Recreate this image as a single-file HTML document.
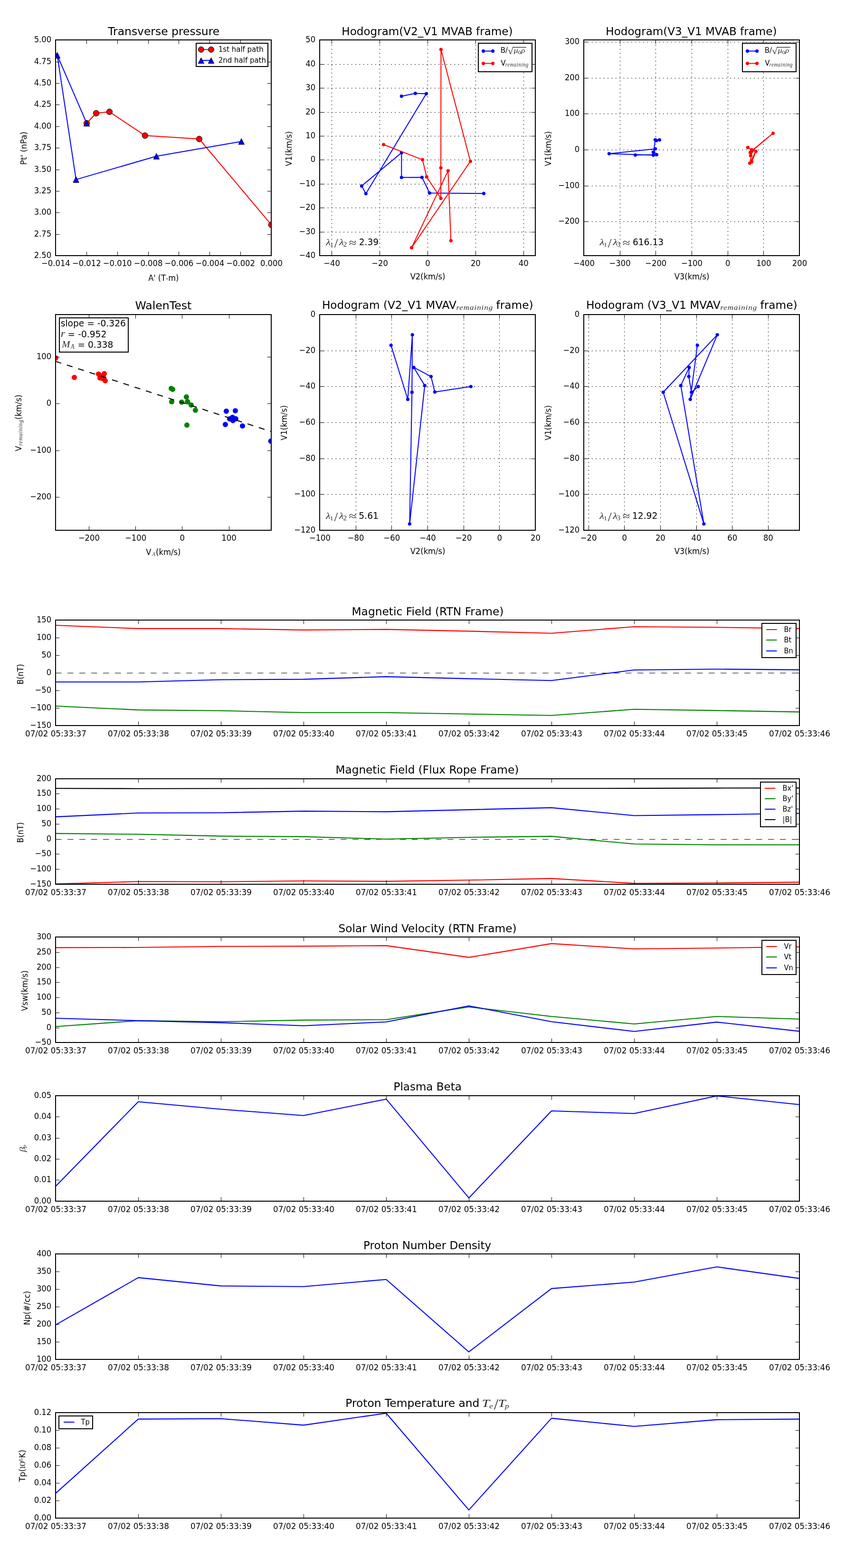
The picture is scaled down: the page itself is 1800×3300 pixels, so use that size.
<!DOCTYPE html>
<html lang="en"><head><meta charset="utf-8"><title>Flux rope event plots</title>
<style>html,body{margin:0;padding:0;background:#fff}svg{display:block}text{white-space:pre}</style></head>
<body>
<svg width="1800" height="3300" viewBox="0 0 1800 3300" role="img" aria-label="Flux rope event plots" font-family='DejaVu Sans,Liberation Sans,sans-serif' font-size="16.67" fill="#000">
<defs><clipPath id="c1"><rect x="117" y="84" width="454" height="454"/></clipPath><clipPath id="c2"><rect x="673" y="84" width="454" height="454"/></clipPath><clipPath id="c3"><rect x="1229" y="84" width="454" height="454"/></clipPath><clipPath id="c4"><rect x="117" y="662" width="454" height="454"/></clipPath><clipPath id="c5"><rect x="673" y="662" width="454" height="454"/></clipPath><clipPath id="c6"><rect x="1229" y="662" width="454" height="454"/></clipPath><clipPath id="c7"><rect x="117" y="1305" width="1566" height="222"/></clipPath><clipPath id="c8"><rect x="117" y="1639" width="1566" height="222"/></clipPath><clipPath id="c9"><rect x="117" y="1972" width="1566" height="222"/></clipPath><clipPath id="c10"><rect x="117" y="2306" width="1566" height="222"/></clipPath><clipPath id="c11"><rect x="117" y="2639" width="1566" height="222"/></clipPath><clipPath id="c12"><rect x="117" y="2973" width="1566" height="222"/></clipPath></defs>
<!-- Transverse pressure -->
<g clip-path="url(#c1)">
<polyline points="182.5,259.3 202.5,238.3 230.4,235.3 305.3,285.3 419.4,292.5 571.3,473.2" fill="none" stroke="#f00" stroke-width="2" stroke-linejoin="round"/>
<circle cx="182.5" cy="259.3" r="6.15" fill="#f00" stroke="#000" stroke-width="1"/>
<circle cx="202.5" cy="238.3" r="6.15" fill="#f00" stroke="#000" stroke-width="1"/>
<circle cx="230.4" cy="235.3" r="6.15" fill="#f00" stroke="#000" stroke-width="1"/>
<circle cx="305.3" cy="285.3" r="6.15" fill="#f00" stroke="#000" stroke-width="1"/>
<circle cx="419.4" cy="292.5" r="6.15" fill="#f00" stroke="#000" stroke-width="1"/>
<circle cx="571.3" cy="473.2" r="6.15" fill="#f00" stroke="#000" stroke-width="1"/>
<polyline points="182.5,259.3 120.5,116.2 160.1,377.9 329.3,328.8 508.2,297.7" fill="none" stroke="#00f" stroke-width="2" stroke-linejoin="round"/>
<path d="M182.5 253.2L176.3 265.6L188.7 265.6Z" fill="#00f" stroke="#000" stroke-width="1"/>
<path d="M120.5 110.1L114.3 122.5L126.7 122.5Z" fill="#00f" stroke="#000" stroke-width="1"/>
<path d="M160.1 371.8L153.9 384.2L166.3 384.2Z" fill="#00f" stroke="#000" stroke-width="1"/>
<path d="M329.3 322.7L323.1 335.1L335.5 335.1Z" fill="#00f" stroke="#000" stroke-width="1"/>
<path d="M508.2 291.6L502 304L514.4 304Z" fill="#00f" stroke="#000" stroke-width="1"/>
</g>
<line x1="117.5" y1="538" x2="117.5" y2="529.6" stroke="#000" stroke-width="1"/>
<line x1="117.5" y1="84" x2="117.5" y2="92.4" stroke="#000" stroke-width="1"/>
<text transform="translate(117.45 559.7) scale(0.985 1.07)" text-anchor="middle">−0.014</text>
<line x1="182.5" y1="538" x2="182.5" y2="529.6" stroke="#000" stroke-width="1"/>
<line x1="182.5" y1="84" x2="182.5" y2="92.4" stroke="#000" stroke-width="1"/>
<text transform="translate(182.31 559.7) scale(0.985 1.07)" text-anchor="middle">−0.012</text>
<line x1="247.5" y1="538" x2="247.5" y2="529.6" stroke="#000" stroke-width="1"/>
<line x1="247.5" y1="84" x2="247.5" y2="92.4" stroke="#000" stroke-width="1"/>
<text transform="translate(247.16 559.7) scale(0.985 1.07)" text-anchor="middle">−0.010</text>
<line x1="312.5" y1="538" x2="312.5" y2="529.6" stroke="#000" stroke-width="1"/>
<line x1="312.5" y1="84" x2="312.5" y2="92.4" stroke="#000" stroke-width="1"/>
<text transform="translate(312.02 559.7) scale(0.985 1.07)" text-anchor="middle">−0.008</text>
<line x1="376.5" y1="538" x2="376.5" y2="529.6" stroke="#000" stroke-width="1"/>
<line x1="376.5" y1="84" x2="376.5" y2="92.4" stroke="#000" stroke-width="1"/>
<text transform="translate(376.88 559.7) scale(0.985 1.07)" text-anchor="middle">−0.006</text>
<line x1="441.5" y1="538" x2="441.5" y2="529.6" stroke="#000" stroke-width="1"/>
<line x1="441.5" y1="84" x2="441.5" y2="92.4" stroke="#000" stroke-width="1"/>
<text transform="translate(441.74 559.7) scale(0.985 1.07)" text-anchor="middle">−0.004</text>
<line x1="506.5" y1="538" x2="506.5" y2="529.6" stroke="#000" stroke-width="1"/>
<line x1="506.5" y1="84" x2="506.5" y2="92.4" stroke="#000" stroke-width="1"/>
<text transform="translate(506.59 559.7) scale(0.985 1.07)" text-anchor="middle">−0.002</text>
<line x1="571.5" y1="538" x2="571.5" y2="529.6" stroke="#000" stroke-width="1"/>
<line x1="571.5" y1="84" x2="571.5" y2="92.4" stroke="#000" stroke-width="1"/>
<text transform="translate(571.45 559.7) scale(0.985 1.07)" text-anchor="middle">0.000</text>
<line x1="117" y1="538.5" x2="125.4" y2="538.5" stroke="#000" stroke-width="1"/>
<line x1="571" y1="538.5" x2="562.6" y2="538.5" stroke="#000" stroke-width="1"/>
<text transform="translate(108.2 542.7) scale(0.985 1.07)" text-anchor="end">2.50</text>
<line x1="117" y1="493.5" x2="125.4" y2="493.5" stroke="#000" stroke-width="1"/>
<line x1="571" y1="493.5" x2="562.6" y2="493.5" stroke="#000" stroke-width="1"/>
<text transform="translate(108.2 497.7) scale(0.985 1.07)" text-anchor="end">2.75</text>
<line x1="117" y1="447.5" x2="125.4" y2="447.5" stroke="#000" stroke-width="1"/>
<line x1="571" y1="447.5" x2="562.6" y2="447.5" stroke="#000" stroke-width="1"/>
<text transform="translate(108.2 451.7) scale(0.985 1.07)" text-anchor="end">3.00</text>
<line x1="117" y1="402.5" x2="125.4" y2="402.5" stroke="#000" stroke-width="1"/>
<line x1="571" y1="402.5" x2="562.6" y2="402.5" stroke="#000" stroke-width="1"/>
<text transform="translate(108.2 406.7) scale(0.985 1.07)" text-anchor="end">3.25</text>
<line x1="117" y1="357.5" x2="125.4" y2="357.5" stroke="#000" stroke-width="1"/>
<line x1="571" y1="357.5" x2="562.6" y2="357.5" stroke="#000" stroke-width="1"/>
<text transform="translate(108.2 361.7) scale(0.985 1.07)" text-anchor="end">3.50</text>
<line x1="117" y1="311.5" x2="125.4" y2="311.5" stroke="#000" stroke-width="1"/>
<line x1="571" y1="311.5" x2="562.6" y2="311.5" stroke="#000" stroke-width="1"/>
<text transform="translate(108.2 315.7) scale(0.985 1.07)" text-anchor="end">3.75</text>
<line x1="117" y1="266.5" x2="125.4" y2="266.5" stroke="#000" stroke-width="1"/>
<line x1="571" y1="266.5" x2="562.6" y2="266.5" stroke="#000" stroke-width="1"/>
<text transform="translate(108.2 270.7) scale(0.985 1.07)" text-anchor="end">4.00</text>
<line x1="117" y1="220.5" x2="125.4" y2="220.5" stroke="#000" stroke-width="1"/>
<line x1="571" y1="220.5" x2="562.6" y2="220.5" stroke="#000" stroke-width="1"/>
<text transform="translate(108.2 224.7) scale(0.985 1.07)" text-anchor="end">4.25</text>
<line x1="117" y1="175.5" x2="125.4" y2="175.5" stroke="#000" stroke-width="1"/>
<line x1="571" y1="175.5" x2="562.6" y2="175.5" stroke="#000" stroke-width="1"/>
<text transform="translate(108.2 179.7) scale(0.985 1.07)" text-anchor="end">4.50</text>
<line x1="117" y1="130.5" x2="125.4" y2="130.5" stroke="#000" stroke-width="1"/>
<line x1="571" y1="130.5" x2="562.6" y2="130.5" stroke="#000" stroke-width="1"/>
<text transform="translate(108.2 134.7) scale(0.985 1.07)" text-anchor="end">4.75</text>
<line x1="117" y1="84.5" x2="125.4" y2="84.5" stroke="#000" stroke-width="1"/>
<line x1="571" y1="84.5" x2="562.6" y2="84.5" stroke="#000" stroke-width="1"/>
<text transform="translate(108.2 88.7) scale(0.985 1.07)" text-anchor="end">5.00</text>
<rect x="117" y="84" width="454" height="454" fill="none" stroke="#000" stroke-width="2"/>
<text transform="translate(227.22 74.1) scale(1.001 1)" font-size="23.4">Transverse pressure</text>
<text transform="translate(312.22 590.9) scale(0.970 1.07)">A' (T<tspan dy="1.9">·</tspan><tspan dy="-1.9">m)</tspan></text>
<text transform="translate(56 345.5) rotate(-90) translate(-1.4 0) scale(1.008 1.07)">Pt' (nPa)</text>
<rect x="413" y="91" width="151" height="49" fill="#fff" stroke="#000" stroke-width="2"/>
<line x1="423.4" y1="104.3" x2="444.5" y2="104.3" stroke="#f00" stroke-width="2"/>
<circle cx="423.4" cy="104.3" r="6" fill="#f00" stroke="#000" stroke-width="1"/>
<circle cx="444.5" cy="104.3" r="6" fill="#f00" stroke="#000" stroke-width="1"/>
<text transform="translate(459.7 109.2) scale(1.000 1.03)" font-size="15">1st half path</text>
<line x1="423.4" y1="127.2" x2="444.5" y2="127.2" stroke="#00f" stroke-width="2"/>
<path d="M423.4 121.4L417.4 133.4L429.4 133.4Z" fill="#00f" stroke="#000" stroke-width="1"/>
<path d="M444.5 121.4L438.5 133.4L450.5 133.4Z" fill="#00f" stroke="#000" stroke-width="1"/>
<text transform="translate(459.7 132) scale(1.000 1.03)" font-size="15">2nd half path</text>
<!-- Hodogram V2-V1 (MVAB) -->
<line x1="698.5" y1="538" x2="698.5" y2="84" stroke="#000" stroke-width="1" stroke-dasharray="2.08 6.25"/>
<line x1="698.5" y1="538" x2="698.5" y2="529.6" stroke="#000" stroke-width="1"/>
<line x1="698.5" y1="84" x2="698.5" y2="92.4" stroke="#000" stroke-width="1"/>
<text transform="translate(698.67 559.7) scale(0.985 1.07)" text-anchor="middle">−40</text>
<line x1="799.5" y1="538" x2="799.5" y2="84" stroke="#000" stroke-width="1" stroke-dasharray="2.08 6.25"/>
<line x1="799.5" y1="538" x2="799.5" y2="529.6" stroke="#000" stroke-width="1"/>
<line x1="799.5" y1="84" x2="799.5" y2="92.4" stroke="#000" stroke-width="1"/>
<text transform="translate(799.56 559.7) scale(0.985 1.07)" text-anchor="middle">−20</text>
<line x1="900.5" y1="538" x2="900.5" y2="84" stroke="#000" stroke-width="1" stroke-dasharray="2.08 6.25"/>
<line x1="900.5" y1="538" x2="900.5" y2="529.6" stroke="#000" stroke-width="1"/>
<line x1="900.5" y1="84" x2="900.5" y2="92.4" stroke="#000" stroke-width="1"/>
<text transform="translate(900.45 559.7) scale(0.985 1.07)" text-anchor="middle">0</text>
<line x1="1001.5" y1="538" x2="1001.5" y2="84" stroke="#000" stroke-width="1" stroke-dasharray="2.08 6.25"/>
<line x1="1001.5" y1="538" x2="1001.5" y2="529.6" stroke="#000" stroke-width="1"/>
<line x1="1001.5" y1="84" x2="1001.5" y2="92.4" stroke="#000" stroke-width="1"/>
<text transform="translate(1001.34 559.7) scale(0.985 1.07)" text-anchor="middle">20</text>
<line x1="1102.5" y1="538" x2="1102.5" y2="84" stroke="#000" stroke-width="1" stroke-dasharray="2.08 6.25"/>
<line x1="1102.5" y1="538" x2="1102.5" y2="529.6" stroke="#000" stroke-width="1"/>
<line x1="1102.5" y1="84" x2="1102.5" y2="92.4" stroke="#000" stroke-width="1"/>
<text transform="translate(1102.23 559.7) scale(0.985 1.07)" text-anchor="middle">40</text>
<line x1="673" y1="538.5" x2="1127" y2="538.5" stroke="#000" stroke-width="1" stroke-dasharray="2.08 6.25"/>
<line x1="673" y1="538.5" x2="681.4" y2="538.5" stroke="#000" stroke-width="1"/>
<line x1="1127" y1="538.5" x2="1118.6" y2="538.5" stroke="#000" stroke-width="1"/>
<text transform="translate(664.2 542.7) scale(0.985 1.07)" text-anchor="end">−40</text>
<line x1="673" y1="488.5" x2="1127" y2="488.5" stroke="#000" stroke-width="1" stroke-dasharray="2.08 6.25"/>
<line x1="673" y1="488.5" x2="681.4" y2="488.5" stroke="#000" stroke-width="1"/>
<line x1="1127" y1="488.5" x2="1118.6" y2="488.5" stroke="#000" stroke-width="1"/>
<text transform="translate(664.2 492.7) scale(0.985 1.07)" text-anchor="end">−30</text>
<line x1="673" y1="437.5" x2="1127" y2="437.5" stroke="#000" stroke-width="1" stroke-dasharray="2.08 6.25"/>
<line x1="673" y1="437.5" x2="681.4" y2="437.5" stroke="#000" stroke-width="1"/>
<line x1="1127" y1="437.5" x2="1118.6" y2="437.5" stroke="#000" stroke-width="1"/>
<text transform="translate(664.2 441.7) scale(0.985 1.07)" text-anchor="end">−20</text>
<line x1="673" y1="387.5" x2="1127" y2="387.5" stroke="#000" stroke-width="1" stroke-dasharray="2.08 6.25"/>
<line x1="673" y1="387.5" x2="681.4" y2="387.5" stroke="#000" stroke-width="1"/>
<line x1="1127" y1="387.5" x2="1118.6" y2="387.5" stroke="#000" stroke-width="1"/>
<text transform="translate(664.2 391.7) scale(0.985 1.07)" text-anchor="end">−10</text>
<line x1="673" y1="336.5" x2="1127" y2="336.5" stroke="#000" stroke-width="1" stroke-dasharray="2.08 6.25"/>
<line x1="673" y1="336.5" x2="681.4" y2="336.5" stroke="#000" stroke-width="1"/>
<line x1="1127" y1="336.5" x2="1118.6" y2="336.5" stroke="#000" stroke-width="1"/>
<text transform="translate(664.2 340.7) scale(0.985 1.07)" text-anchor="end">0</text>
<line x1="673" y1="286.5" x2="1127" y2="286.5" stroke="#000" stroke-width="1" stroke-dasharray="2.08 6.25"/>
<line x1="673" y1="286.5" x2="681.4" y2="286.5" stroke="#000" stroke-width="1"/>
<line x1="1127" y1="286.5" x2="1118.6" y2="286.5" stroke="#000" stroke-width="1"/>
<text transform="translate(664.2 290.7) scale(0.985 1.07)" text-anchor="end">10</text>
<line x1="673" y1="236.5" x2="1127" y2="236.5" stroke="#000" stroke-width="1" stroke-dasharray="2.08 6.25"/>
<line x1="673" y1="236.5" x2="681.4" y2="236.5" stroke="#000" stroke-width="1"/>
<line x1="1127" y1="236.5" x2="1118.6" y2="236.5" stroke="#000" stroke-width="1"/>
<text transform="translate(664.2 240.7) scale(0.985 1.07)" text-anchor="end">20</text>
<line x1="673" y1="185.5" x2="1127" y2="185.5" stroke="#000" stroke-width="1" stroke-dasharray="2.08 6.25"/>
<line x1="673" y1="185.5" x2="681.4" y2="185.5" stroke="#000" stroke-width="1"/>
<line x1="1127" y1="185.5" x2="1118.6" y2="185.5" stroke="#000" stroke-width="1"/>
<text transform="translate(664.2 189.7) scale(0.985 1.07)" text-anchor="end">30</text>
<line x1="673" y1="135.5" x2="1127" y2="135.5" stroke="#000" stroke-width="1" stroke-dasharray="2.08 6.25"/>
<line x1="673" y1="135.5" x2="681.4" y2="135.5" stroke="#000" stroke-width="1"/>
<line x1="1127" y1="135.5" x2="1118.6" y2="135.5" stroke="#000" stroke-width="1"/>
<text transform="translate(664.2 139.7) scale(0.985 1.07)" text-anchor="end">40</text>
<line x1="673" y1="84.5" x2="1127" y2="84.5" stroke="#000" stroke-width="1" stroke-dasharray="2.08 6.25"/>
<line x1="673" y1="84.5" x2="681.4" y2="84.5" stroke="#000" stroke-width="1"/>
<line x1="1127" y1="84.5" x2="1118.6" y2="84.5" stroke="#000" stroke-width="1"/>
<text transform="translate(664.2 88.7) scale(0.985 1.07)" text-anchor="end">50</text>
<g clip-path="url(#c2)">
<polyline points="845.3,202.5 874.3,196.5 897.4,197.3 770.3,407.5 761.4,391.4 845.3,321.6 845.3,373.5 888.4,373.3 904.4,406.2 1018.5,407.2" fill="none" stroke="#00f" stroke-width="2" stroke-linejoin="round"/>
<circle cx="845.3" cy="202.5" r="3.2" fill="#00f" stroke="#00f" stroke-width="1"/>
<circle cx="874.3" cy="196.5" r="3.2" fill="#00f" stroke="#00f" stroke-width="1"/>
<circle cx="897.4" cy="197.3" r="3.2" fill="#00f" stroke="#00f" stroke-width="1"/>
<circle cx="770.3" cy="407.5" r="3.2" fill="#00f" stroke="#00f" stroke-width="1"/>
<circle cx="761.4" cy="391.4" r="3.2" fill="#00f" stroke="#00f" stroke-width="1"/>
<circle cx="845.3" cy="321.6" r="3.2" fill="#00f" stroke="#00f" stroke-width="1"/>
<circle cx="845.3" cy="373.5" r="3.2" fill="#00f" stroke="#00f" stroke-width="1"/>
<circle cx="888.4" cy="373.3" r="3.2" fill="#00f" stroke="#00f" stroke-width="1"/>
<circle cx="904.4" cy="406.2" r="3.2" fill="#00f" stroke="#00f" stroke-width="1"/>
<circle cx="1018.5" cy="407.2" r="3.2" fill="#00f" stroke="#00f" stroke-width="1"/>
<polyline points="807.5,304.3 889.5,336.1 898.2,372.2 928.1,417.5 928.1,353.2 928.4,104.2 990.3,339.5 866.5,521.4 943.3,359.4 949.3,506.5" fill="none" stroke="#f00" stroke-width="2" stroke-linejoin="round"/>
<circle cx="807.5" cy="304.3" r="3.2" fill="#f00" stroke="#f00" stroke-width="1"/>
<circle cx="889.5" cy="336.1" r="3.2" fill="#f00" stroke="#f00" stroke-width="1"/>
<circle cx="898.2" cy="372.2" r="3.2" fill="#f00" stroke="#f00" stroke-width="1"/>
<circle cx="928.1" cy="417.5" r="3.2" fill="#f00" stroke="#f00" stroke-width="1"/>
<circle cx="928.1" cy="353.2" r="3.2" fill="#f00" stroke="#f00" stroke-width="1"/>
<circle cx="928.4" cy="104.2" r="3.2" fill="#f00" stroke="#f00" stroke-width="1"/>
<circle cx="990.3" cy="339.5" r="3.2" fill="#f00" stroke="#f00" stroke-width="1"/>
<circle cx="866.5" cy="521.4" r="3.2" fill="#f00" stroke="#f00" stroke-width="1"/>
<circle cx="943.3" cy="359.4" r="3.2" fill="#f00" stroke="#f00" stroke-width="1"/>
<circle cx="949.3" cy="506.5" r="3.2" fill="#f00" stroke="#f00" stroke-width="1"/>
</g>
<rect x="673" y="84" width="454" height="454" fill="none" stroke="#000" stroke-width="2"/>
<text transform="translate(719.34 74.1) scale(0.986 1)" font-size="23.4">Hodogram(V2_V1 MVAB frame)</text>
<text transform="translate(863.67 588.4) scale(0.981 1.07)">V2(km/s)</text>
<text transform="translate(614 349.8) rotate(-90) translate(0.12 0) scale(0.980 1.07)">V1(km/s)</text>
<rect x="1007" y="91" width="113" height="60" fill="#fff" stroke="#000" stroke-width="2"/>
<line x1="1017.5" y1="107.5" x2="1037.6" y2="107.5" stroke="#00f" stroke-width="2"/>
<circle cx="1017.5" cy="107.5" r="3.2" fill="#00f" stroke="#00f" stroke-width="1"/>
<circle cx="1037.6" cy="107.5" r="3.2" fill="#00f" stroke="#00f" stroke-width="1"/>
<line x1="1017.5" y1="133.5" x2="1037.6" y2="133.5" stroke="#f00" stroke-width="2"/>
<circle cx="1017.5" cy="133.5" r="3.2" fill="#f00" stroke="#f00" stroke-width="1"/>
<circle cx="1037.6" cy="133.5" r="3.2" fill="#f00" stroke="#f00" stroke-width="1"/>
<text transform="translate(1053.63 110.8) scale(1.000 1.02)" font-size="15">B/</text>
<text transform="translate(1068.8 114.11) scale(1.125 1)" font-size="19.55" font-family='Liberation Serif,DejaVu Serif,serif' fill-opacity="0.85">√</text>
<line x1="1080" y1="99.5" x2="1108" y2="99.5" stroke="#000" stroke-width="1.1"/>
<text transform="translate(1081.87 110.81) scale(1.132 1)" font-size="15.6" font-family='Liberation Serif,DejaVu Serif,serif' fill-opacity="0.85" font-style="italic">μ</text>
<text transform="translate(1090.14 114.04) scale(1.260 1)" font-size="10.67" font-family='Liberation Serif,DejaVu Serif,serif' fill-opacity="0.85">0</text>
<text transform="translate(1097.27 110.87) scale(1.094 1)" font-size="15.4" font-family='Liberation Serif,DejaVu Serif,serif' fill-opacity="0.85" font-style="italic">ρ</text>
<text transform="translate(1054.18 137.8) scale(1.000 1.02)" font-size="15">V</text>
<text transform="translate(1063.76 139.64) scale(0.924 1)" font-size="11.54" font-family='Liberation Serif,DejaVu Serif,serif' fill-opacity="0.85" font-style="italic" letter-spacing="0.69">remaining</text>
<text transform="translate(686.28 516.35) scale(1.150 1)" font-size="19.32" font-family='Liberation Serif,DejaVu Serif,serif' fill-opacity="0.85" font-style="italic">λ</text>
<text transform="translate(694.68 519.05) scale(1.074 1)" font-size="13.48" font-family='Liberation Serif,DejaVu Serif,serif' fill-opacity="0.85">1</text>
<text transform="translate(703.65 520.87) scale(1.020 1)" font-size="27.5" font-family='Liberation Serif,DejaVu Serif,serif' fill-opacity="0.85">/</text>
<text transform="translate(714.28 516.35) scale(1.138 1)" font-size="19.32" font-family='Liberation Serif,DejaVu Serif,serif' fill-opacity="0.85" font-style="italic">λ</text>
<text transform="translate(722.69 519.15) scale(1.065 1)" font-size="14.05" font-family='Liberation Serif,DejaVu Serif,serif' fill-opacity="0.85">2</text>
<text transform="translate(734.76 518.73) scale(1.197 1)" font-size="23.64" font-family='Liberation Serif,DejaVu Serif,serif' fill-opacity="0.85">≈</text>
<text transform="translate(755.64 516.1) scale(0.995 1)" font-size="18.75">2.39</text>
<!-- Hodogram V3-V1 (MVAB) -->
<line x1="1229.5" y1="538" x2="1229.5" y2="84" stroke="#000" stroke-width="1" stroke-dasharray="2.08 6.25"/>
<line x1="1229.5" y1="538" x2="1229.5" y2="529.6" stroke="#000" stroke-width="1"/>
<line x1="1229.5" y1="84" x2="1229.5" y2="92.4" stroke="#000" stroke-width="1"/>
<text transform="translate(1229.45 559.7) scale(0.985 1.07)" text-anchor="middle">−400</text>
<line x1="1305.5" y1="538" x2="1305.5" y2="84" stroke="#000" stroke-width="1" stroke-dasharray="2.08 6.25"/>
<line x1="1305.5" y1="538" x2="1305.5" y2="529.6" stroke="#000" stroke-width="1"/>
<line x1="1305.5" y1="84" x2="1305.5" y2="92.4" stroke="#000" stroke-width="1"/>
<text transform="translate(1305.12 559.7) scale(0.985 1.07)" text-anchor="middle">−300</text>
<line x1="1380.5" y1="538" x2="1380.5" y2="84" stroke="#000" stroke-width="1" stroke-dasharray="2.08 6.25"/>
<line x1="1380.5" y1="538" x2="1380.5" y2="529.6" stroke="#000" stroke-width="1"/>
<line x1="1380.5" y1="84" x2="1380.5" y2="92.4" stroke="#000" stroke-width="1"/>
<text transform="translate(1380.78 559.7) scale(0.985 1.07)" text-anchor="middle">−200</text>
<line x1="1456.5" y1="538" x2="1456.5" y2="84" stroke="#000" stroke-width="1" stroke-dasharray="2.08 6.25"/>
<line x1="1456.5" y1="538" x2="1456.5" y2="529.6" stroke="#000" stroke-width="1"/>
<line x1="1456.5" y1="84" x2="1456.5" y2="92.4" stroke="#000" stroke-width="1"/>
<text transform="translate(1456.45 559.7) scale(0.985 1.07)" text-anchor="middle">−100</text>
<line x1="1532.5" y1="538" x2="1532.5" y2="84" stroke="#000" stroke-width="1" stroke-dasharray="2.08 6.25"/>
<line x1="1532.5" y1="538" x2="1532.5" y2="529.6" stroke="#000" stroke-width="1"/>
<line x1="1532.5" y1="84" x2="1532.5" y2="92.4" stroke="#000" stroke-width="1"/>
<text transform="translate(1532.12 559.7) scale(0.985 1.07)" text-anchor="middle">0</text>
<line x1="1607.5" y1="538" x2="1607.5" y2="84" stroke="#000" stroke-width="1" stroke-dasharray="2.08 6.25"/>
<line x1="1607.5" y1="538" x2="1607.5" y2="529.6" stroke="#000" stroke-width="1"/>
<line x1="1607.5" y1="84" x2="1607.5" y2="92.4" stroke="#000" stroke-width="1"/>
<text transform="translate(1607.78 559.7) scale(0.985 1.07)" text-anchor="middle">100</text>
<line x1="1683.5" y1="538" x2="1683.5" y2="84" stroke="#000" stroke-width="1" stroke-dasharray="2.08 6.25"/>
<line x1="1683.5" y1="538" x2="1683.5" y2="529.6" stroke="#000" stroke-width="1"/>
<line x1="1683.5" y1="84" x2="1683.5" y2="92.4" stroke="#000" stroke-width="1"/>
<text transform="translate(1683.45 559.7) scale(0.985 1.07)" text-anchor="middle">200</text>
<line x1="1229" y1="466.5" x2="1683" y2="466.5" stroke="#000" stroke-width="1" stroke-dasharray="2.08 6.25"/>
<line x1="1229" y1="466.5" x2="1237.4" y2="466.5" stroke="#000" stroke-width="1"/>
<line x1="1683" y1="466.5" x2="1674.6" y2="466.5" stroke="#000" stroke-width="1"/>
<text transform="translate(1220.2 470.7) scale(0.985 1.07)" text-anchor="end">−200</text>
<line x1="1229" y1="391.5" x2="1683" y2="391.5" stroke="#000" stroke-width="1" stroke-dasharray="2.08 6.25"/>
<line x1="1229" y1="391.5" x2="1237.4" y2="391.5" stroke="#000" stroke-width="1"/>
<line x1="1683" y1="391.5" x2="1674.6" y2="391.5" stroke="#000" stroke-width="1"/>
<text transform="translate(1220.2 395.7) scale(0.985 1.07)" text-anchor="end">−100</text>
<line x1="1229" y1="315.5" x2="1683" y2="315.5" stroke="#000" stroke-width="1" stroke-dasharray="2.08 6.25"/>
<line x1="1229" y1="315.5" x2="1237.4" y2="315.5" stroke="#000" stroke-width="1"/>
<line x1="1683" y1="315.5" x2="1674.6" y2="315.5" stroke="#000" stroke-width="1"/>
<text transform="translate(1220.2 319.7) scale(0.985 1.07)" text-anchor="end">0</text>
<line x1="1229" y1="239.5" x2="1683" y2="239.5" stroke="#000" stroke-width="1" stroke-dasharray="2.08 6.25"/>
<line x1="1229" y1="239.5" x2="1237.4" y2="239.5" stroke="#000" stroke-width="1"/>
<line x1="1683" y1="239.5" x2="1674.6" y2="239.5" stroke="#000" stroke-width="1"/>
<text transform="translate(1220.2 243.7) scale(0.985 1.07)" text-anchor="end">100</text>
<line x1="1229" y1="164.5" x2="1683" y2="164.5" stroke="#000" stroke-width="1" stroke-dasharray="2.08 6.25"/>
<line x1="1229" y1="164.5" x2="1237.4" y2="164.5" stroke="#000" stroke-width="1"/>
<line x1="1683" y1="164.5" x2="1674.6" y2="164.5" stroke="#000" stroke-width="1"/>
<text transform="translate(1220.2 168.7) scale(0.985 1.07)" text-anchor="end">200</text>
<line x1="1229" y1="88.5" x2="1683" y2="88.5" stroke="#000" stroke-width="1" stroke-dasharray="2.08 6.25"/>
<line x1="1229" y1="88.5" x2="1237.4" y2="88.5" stroke="#000" stroke-width="1"/>
<line x1="1683" y1="88.5" x2="1674.6" y2="88.5" stroke="#000" stroke-width="1"/>
<text transform="translate(1220.2 92.7) scale(0.985 1.07)" text-anchor="end">300</text>
<g clip-path="url(#c3)">
<polyline points="1381.9,295.9 1388.5,294.4 1379.3,294.2 1375.4,326.6 1282.4,323.4 1379.6,313.3 1375.4,320.1 1375.6,320.6 1382.4,325.5 1337.4,326.3" fill="none" stroke="#00f" stroke-width="2" stroke-linejoin="round"/>
<circle cx="1381.9" cy="295.9" r="3.2" fill="#00f" stroke="#00f" stroke-width="1"/>
<circle cx="1388.5" cy="294.4" r="3.2" fill="#00f" stroke="#00f" stroke-width="1"/>
<circle cx="1379.3" cy="294.2" r="3.2" fill="#00f" stroke="#00f" stroke-width="1"/>
<circle cx="1375.4" cy="326.6" r="3.2" fill="#00f" stroke="#00f" stroke-width="1"/>
<circle cx="1282.4" cy="323.4" r="3.2" fill="#00f" stroke="#00f" stroke-width="1"/>
<circle cx="1379.6" cy="313.3" r="3.2" fill="#00f" stroke="#00f" stroke-width="1"/>
<circle cx="1375.4" cy="320.1" r="3.2" fill="#00f" stroke="#00f" stroke-width="1"/>
<circle cx="1375.6" cy="320.6" r="3.2" fill="#00f" stroke="#00f" stroke-width="1"/>
<circle cx="1382.4" cy="325.5" r="3.2" fill="#00f" stroke="#00f" stroke-width="1"/>
<circle cx="1337.4" cy="326.3" r="3.2" fill="#00f" stroke="#00f" stroke-width="1"/>
<polyline points="1574.4,310.4 1582.7,315.3 1579.3,320.7 1580.3,327.6 1583,318 1627.5,280.6 1584,316.2 1578.4,343.4 1591.2,318.6 1582.7,340.9" fill="none" stroke="#f00" stroke-width="2" stroke-linejoin="round"/>
<circle cx="1574.4" cy="310.4" r="3.2" fill="#f00" stroke="#f00" stroke-width="1"/>
<circle cx="1582.7" cy="315.3" r="3.2" fill="#f00" stroke="#f00" stroke-width="1"/>
<circle cx="1579.3" cy="320.7" r="3.2" fill="#f00" stroke="#f00" stroke-width="1"/>
<circle cx="1580.3" cy="327.6" r="3.2" fill="#f00" stroke="#f00" stroke-width="1"/>
<circle cx="1583" cy="318" r="3.2" fill="#f00" stroke="#f00" stroke-width="1"/>
<circle cx="1627.5" cy="280.6" r="3.2" fill="#f00" stroke="#f00" stroke-width="1"/>
<circle cx="1584" cy="316.2" r="3.2" fill="#f00" stroke="#f00" stroke-width="1"/>
<circle cx="1578.4" cy="343.4" r="3.2" fill="#f00" stroke="#f00" stroke-width="1"/>
<circle cx="1591.2" cy="318.6" r="3.2" fill="#f00" stroke="#f00" stroke-width="1"/>
<circle cx="1582.7" cy="340.9" r="3.2" fill="#f00" stroke="#f00" stroke-width="1"/>
</g>
<rect x="1229" y="84" width="454" height="454" fill="none" stroke="#000" stroke-width="2"/>
<text transform="translate(1275.34 74.1) scale(0.986 1)" font-size="23.4">Hodogram(V3_V1 MVAB frame)</text>
<text transform="translate(1419.67 588.4) scale(0.981 1.07)">V3(km/s)</text>
<text transform="translate(1160 349.8) rotate(-90) translate(0.12 0) scale(0.980 1.07)">V1(km/s)</text>
<rect x="1563" y="91" width="113" height="60" fill="#fff" stroke="#000" stroke-width="2"/>
<line x1="1573.5" y1="107.5" x2="1593.6" y2="107.5" stroke="#00f" stroke-width="2"/>
<circle cx="1573.5" cy="107.5" r="3.2" fill="#00f" stroke="#00f" stroke-width="1"/>
<circle cx="1593.6" cy="107.5" r="3.2" fill="#00f" stroke="#00f" stroke-width="1"/>
<line x1="1573.5" y1="133.5" x2="1593.6" y2="133.5" stroke="#f00" stroke-width="2"/>
<circle cx="1573.5" cy="133.5" r="3.2" fill="#f00" stroke="#f00" stroke-width="1"/>
<circle cx="1593.6" cy="133.5" r="3.2" fill="#f00" stroke="#f00" stroke-width="1"/>
<text transform="translate(1609.63 110.8) scale(1.000 1.02)" font-size="15">B/</text>
<text transform="translate(1624.8 114.11) scale(1.125 1)" font-size="19.55" font-family='Liberation Serif,DejaVu Serif,serif' fill-opacity="0.85">√</text>
<line x1="1636" y1="99.5" x2="1664" y2="99.5" stroke="#000" stroke-width="1.1"/>
<text transform="translate(1637.87 110.81) scale(1.132 1)" font-size="15.6" font-family='Liberation Serif,DejaVu Serif,serif' fill-opacity="0.85" font-style="italic">μ</text>
<text transform="translate(1646.14 114.04) scale(1.260 1)" font-size="10.67" font-family='Liberation Serif,DejaVu Serif,serif' fill-opacity="0.85">0</text>
<text transform="translate(1653.27 110.87) scale(1.094 1)" font-size="15.4" font-family='Liberation Serif,DejaVu Serif,serif' fill-opacity="0.85" font-style="italic">ρ</text>
<text transform="translate(1610.18 137.8) scale(1.000 1.02)" font-size="15">V</text>
<text transform="translate(1619.76 139.64) scale(0.924 1)" font-size="11.54" font-family='Liberation Serif,DejaVu Serif,serif' fill-opacity="0.85" font-style="italic" letter-spacing="0.69">remaining</text>
<text transform="translate(1262.48 516.25) scale(1.150 1)" font-size="19.32" font-family='Liberation Serif,DejaVu Serif,serif' fill-opacity="0.85" font-style="italic">λ</text>
<text transform="translate(1270.88 518.95) scale(1.074 1)" font-size="13.48" font-family='Liberation Serif,DejaVu Serif,serif' fill-opacity="0.85">1</text>
<text transform="translate(1279.85 520.77) scale(1.020 1)" font-size="27.5" font-family='Liberation Serif,DejaVu Serif,serif' fill-opacity="0.85">/</text>
<text transform="translate(1290.48 516.25) scale(1.138 1)" font-size="19.32" font-family='Liberation Serif,DejaVu Serif,serif' fill-opacity="0.85" font-style="italic">λ</text>
<text transform="translate(1298.85 518.91) scale(1.050 1)" font-size="13.84" font-family='Liberation Serif,DejaVu Serif,serif' fill-opacity="0.85">3</text>
<text transform="translate(1310.96 518.63) scale(1.197 1)" font-size="23.64" font-family='Liberation Serif,DejaVu Serif,serif' fill-opacity="0.85">≈</text>
<text transform="translate(1331.89 516) scale(0.995 1)" font-size="18.75">616.13</text>
<!-- Walen test -->
<g clip-path="url(#c4)">
<circle cx="117.4" cy="753.3" r="5.55" fill="#f00"/>
<circle cx="156.5" cy="794.3" r="5.55" fill="#f00"/>
<circle cx="207.44" cy="787.26" r="5.55" fill="#f00"/>
<circle cx="219.54" cy="786.37" r="5.55" fill="#f00"/>
<circle cx="210.46" cy="795.44" r="5.55" fill="#f00"/>
<circle cx="221.49" cy="801.32" r="5.55" fill="#f00"/>
<circle cx="215.6" cy="796.3" r="5.55" fill="#f00"/>
<circle cx="214" cy="793.2" r="5.55" fill="#f00"/>
<circle cx="217.5" cy="793.5" r="5.55" fill="#f00"/>
<circle cx="212.5" cy="791" r="5.55" fill="#f00"/>
<circle cx="360.56" cy="817.46" r="5.55" fill="#008000"/>
<circle cx="363.45" cy="819.45" r="5.55" fill="#008000"/>
<circle cx="392.45" cy="835.4" r="5.55" fill="#008000"/>
<circle cx="361.46" cy="845.46" r="5.55" fill="#008000"/>
<circle cx="382.39" cy="846.36" r="5.55" fill="#008000"/>
<circle cx="394.84" cy="845.36" r="5.55" fill="#008000"/>
<circle cx="394.6" cy="845.5" r="5.55" fill="#008000"/>
<circle cx="402.42" cy="852.33" r="5.55" fill="#008000"/>
<circle cx="411.43" cy="863.3" r="5.55" fill="#008000"/>
<circle cx="393.5" cy="894.6" r="5.55" fill="#008000"/>
<circle cx="476.44" cy="865.37" r="5.55" fill="#00f"/>
<circle cx="495.44" cy="864.43" r="5.55" fill="#00f"/>
<circle cx="483.48" cy="881.6" r="5.55" fill="#00f"/>
<circle cx="489.46" cy="878.18" r="5.55" fill="#00f"/>
<circle cx="496.29" cy="881.38" r="5.55" fill="#00f"/>
<circle cx="490.3" cy="885.2" r="5.55" fill="#00f"/>
<circle cx="474.43" cy="893.34" r="5.55" fill="#00f"/>
<circle cx="510.5" cy="896.45" r="5.55" fill="#00f"/>
<circle cx="570.2" cy="928.4" r="5.55" fill="#00f"/>
<circle cx="489.9" cy="881.8" r="5.55" fill="#00f"/>
<line x1="117" y1="760.5" x2="571" y2="908.28" stroke="#000" stroke-width="2.08" stroke-dasharray="12.5 12.5"/>
</g>
<line x1="187.5" y1="1116" x2="187.5" y2="1107.6" stroke="#000" stroke-width="1"/>
<line x1="187.5" y1="662" x2="187.5" y2="670.4" stroke="#000" stroke-width="1"/>
<text transform="translate(187.4 1137.7) scale(0.985 1.07)" text-anchor="middle">−200</text>
<line x1="285.5" y1="1116" x2="285.5" y2="1107.6" stroke="#000" stroke-width="1"/>
<line x1="285.5" y1="662" x2="285.5" y2="670.4" stroke="#000" stroke-width="1"/>
<text transform="translate(285.6 1137.7) scale(0.985 1.07)" text-anchor="middle">−100</text>
<line x1="383.5" y1="1116" x2="383.5" y2="1107.6" stroke="#000" stroke-width="1"/>
<line x1="383.5" y1="662" x2="383.5" y2="670.4" stroke="#000" stroke-width="1"/>
<text transform="translate(383.8 1137.7) scale(0.985 1.07)" text-anchor="middle">0</text>
<line x1="482.5" y1="1116" x2="482.5" y2="1107.6" stroke="#000" stroke-width="1"/>
<line x1="482.5" y1="662" x2="482.5" y2="670.4" stroke="#000" stroke-width="1"/>
<text transform="translate(482 1137.7) scale(0.985 1.07)" text-anchor="middle">100</text>
<line x1="117" y1="1046.5" x2="125.4" y2="1046.5" stroke="#000" stroke-width="1"/>
<line x1="571" y1="1046.5" x2="562.6" y2="1046.5" stroke="#000" stroke-width="1"/>
<text transform="translate(108.2 1050.7) scale(0.985 1.07)" text-anchor="end">−200</text>
<line x1="117" y1="948.5" x2="125.4" y2="948.5" stroke="#000" stroke-width="1"/>
<line x1="571" y1="948.5" x2="562.6" y2="948.5" stroke="#000" stroke-width="1"/>
<text transform="translate(108.2 952.7) scale(0.985 1.07)" text-anchor="end">−100</text>
<line x1="117" y1="849.5" x2="125.4" y2="849.5" stroke="#000" stroke-width="1"/>
<line x1="571" y1="849.5" x2="562.6" y2="849.5" stroke="#000" stroke-width="1"/>
<text transform="translate(108.2 853.7) scale(0.985 1.07)" text-anchor="end">0</text>
<line x1="117" y1="751.5" x2="125.4" y2="751.5" stroke="#000" stroke-width="1"/>
<line x1="571" y1="751.5" x2="562.6" y2="751.5" stroke="#000" stroke-width="1"/>
<text transform="translate(108.2 755.7) scale(0.985 1.07)" text-anchor="end">100</text>
<rect x="117" y="662" width="454" height="454" fill="none" stroke="#000" stroke-width="2"/>
<text transform="translate(284.47 650.7) scale(1.010 1)" font-size="23.4">WalenTest</text>
<text transform="translate(307.17 1167.6) scale(0.985 1.07)">V</text>
<text transform="translate(320.17 1170.15) scale(0.870 1)" font-size="12.88" font-family='Liberation Serif,DejaVu Serif,serif' fill-opacity="0.85" font-style="italic">A</text>
<text transform="translate(328.09 1167.6) scale(0.985 1.07)">(km/s)</text>
<text transform="translate(45 949.8) rotate(-90) scale(0.985 1.07)">V</text>
<text transform="translate(45 949.9) rotate(-90) translate(11.91 1.79) scale(1.012 1)" font-size="11.77" font-family='Liberation Serif,DejaVu Serif,serif' fill-opacity="0.85" font-style="italic" letter-spacing="0.71">remaining</text>
<text transform="translate(45 883.01) rotate(-90) scale(0.985 1.07)">(km/s)</text>
<rect x="125" y="669" width="145" height="72" fill="#fff" stroke="#000" stroke-width="2"/>
<text transform="translate(127.69 687.1) scale(0.995 1)" font-size="18.75">slope = -0.326</text>
<text transform="translate(127.86 709.25) scale(1.188 1)" font-size="20.38" font-family='Liberation Serif,DejaVu Serif,serif' fill-opacity="0.85" font-style="italic">r</text>
<text transform="translate(142.62 709.5) scale(0.995 1)" font-size="18.75">= -0.952</text>
<text transform="translate(130.2 731.25) scale(1.115 1)" font-size="18.63" font-family='Liberation Serif,DejaVu Serif,serif' fill-opacity="0.85" font-style="italic">M</text>
<text transform="translate(148.92 734.35) scale(0.899 1)" font-size="13.64" font-family='Liberation Serif,DejaVu Serif,serif' fill-opacity="0.85" font-style="italic">A</text>
<text transform="translate(163.42 731.5) scale(0.995 1)" font-size="18.75">= 0.338</text>
<!-- Hodogram V2-V1 (MVAV) -->
<line x1="673.5" y1="1116" x2="673.5" y2="662" stroke="#000" stroke-width="1" stroke-dasharray="2.08 6.25"/>
<line x1="673.5" y1="1116" x2="673.5" y2="1107.6" stroke="#000" stroke-width="1"/>
<line x1="673.5" y1="662" x2="673.5" y2="670.4" stroke="#000" stroke-width="1"/>
<text transform="translate(673.45 1137.7) scale(0.985 1.07)" text-anchor="middle">−100</text>
<line x1="749.5" y1="1116" x2="749.5" y2="662" stroke="#000" stroke-width="1" stroke-dasharray="2.08 6.25"/>
<line x1="749.5" y1="1116" x2="749.5" y2="1107.6" stroke="#000" stroke-width="1"/>
<line x1="749.5" y1="662" x2="749.5" y2="670.4" stroke="#000" stroke-width="1"/>
<text transform="translate(749.12 1137.7) scale(0.985 1.07)" text-anchor="middle">−80</text>
<line x1="824.5" y1="1116" x2="824.5" y2="662" stroke="#000" stroke-width="1" stroke-dasharray="2.08 6.25"/>
<line x1="824.5" y1="1116" x2="824.5" y2="1107.6" stroke="#000" stroke-width="1"/>
<line x1="824.5" y1="662" x2="824.5" y2="670.4" stroke="#000" stroke-width="1"/>
<text transform="translate(824.78 1137.7) scale(0.985 1.07)" text-anchor="middle">−60</text>
<line x1="900.5" y1="1116" x2="900.5" y2="662" stroke="#000" stroke-width="1" stroke-dasharray="2.08 6.25"/>
<line x1="900.5" y1="1116" x2="900.5" y2="1107.6" stroke="#000" stroke-width="1"/>
<line x1="900.5" y1="662" x2="900.5" y2="670.4" stroke="#000" stroke-width="1"/>
<text transform="translate(900.45 1137.7) scale(0.985 1.07)" text-anchor="middle">−40</text>
<line x1="976.5" y1="1116" x2="976.5" y2="662" stroke="#000" stroke-width="1" stroke-dasharray="2.08 6.25"/>
<line x1="976.5" y1="1116" x2="976.5" y2="1107.6" stroke="#000" stroke-width="1"/>
<line x1="976.5" y1="662" x2="976.5" y2="670.4" stroke="#000" stroke-width="1"/>
<text transform="translate(976.12 1137.7) scale(0.985 1.07)" text-anchor="middle">−20</text>
<line x1="1051.5" y1="1116" x2="1051.5" y2="662" stroke="#000" stroke-width="1" stroke-dasharray="2.08 6.25"/>
<line x1="1051.5" y1="1116" x2="1051.5" y2="1107.6" stroke="#000" stroke-width="1"/>
<line x1="1051.5" y1="662" x2="1051.5" y2="670.4" stroke="#000" stroke-width="1"/>
<text transform="translate(1051.78 1137.7) scale(0.985 1.07)" text-anchor="middle">0</text>
<line x1="1127.5" y1="1116" x2="1127.5" y2="662" stroke="#000" stroke-width="1" stroke-dasharray="2.08 6.25"/>
<line x1="1127.5" y1="1116" x2="1127.5" y2="1107.6" stroke="#000" stroke-width="1"/>
<line x1="1127.5" y1="662" x2="1127.5" y2="670.4" stroke="#000" stroke-width="1"/>
<text transform="translate(1127.45 1137.7) scale(0.985 1.07)" text-anchor="middle">20</text>
<line x1="673" y1="1116.5" x2="1127" y2="1116.5" stroke="#000" stroke-width="1" stroke-dasharray="2.08 6.25"/>
<line x1="673" y1="1116.5" x2="681.4" y2="1116.5" stroke="#000" stroke-width="1"/>
<line x1="1127" y1="1116.5" x2="1118.6" y2="1116.5" stroke="#000" stroke-width="1"/>
<text transform="translate(664.2 1120.7) scale(0.985 1.07)" text-anchor="end">−120</text>
<line x1="673" y1="1040.5" x2="1127" y2="1040.5" stroke="#000" stroke-width="1" stroke-dasharray="2.08 6.25"/>
<line x1="673" y1="1040.5" x2="681.4" y2="1040.5" stroke="#000" stroke-width="1"/>
<line x1="1127" y1="1040.5" x2="1118.6" y2="1040.5" stroke="#000" stroke-width="1"/>
<text transform="translate(664.2 1044.7) scale(0.985 1.07)" text-anchor="end">−100</text>
<line x1="673" y1="965.5" x2="1127" y2="965.5" stroke="#000" stroke-width="1" stroke-dasharray="2.08 6.25"/>
<line x1="673" y1="965.5" x2="681.4" y2="965.5" stroke="#000" stroke-width="1"/>
<line x1="1127" y1="965.5" x2="1118.6" y2="965.5" stroke="#000" stroke-width="1"/>
<text transform="translate(664.2 969.7) scale(0.985 1.07)" text-anchor="end">−80</text>
<line x1="673" y1="889.5" x2="1127" y2="889.5" stroke="#000" stroke-width="1" stroke-dasharray="2.08 6.25"/>
<line x1="673" y1="889.5" x2="681.4" y2="889.5" stroke="#000" stroke-width="1"/>
<line x1="1127" y1="889.5" x2="1118.6" y2="889.5" stroke="#000" stroke-width="1"/>
<text transform="translate(664.2 893.7) scale(0.985 1.07)" text-anchor="end">−60</text>
<line x1="673" y1="813.5" x2="1127" y2="813.5" stroke="#000" stroke-width="1" stroke-dasharray="2.08 6.25"/>
<line x1="673" y1="813.5" x2="681.4" y2="813.5" stroke="#000" stroke-width="1"/>
<line x1="1127" y1="813.5" x2="1118.6" y2="813.5" stroke="#000" stroke-width="1"/>
<text transform="translate(664.2 817.7) scale(0.985 1.07)" text-anchor="end">−40</text>
<line x1="673" y1="738.5" x2="1127" y2="738.5" stroke="#000" stroke-width="1" stroke-dasharray="2.08 6.25"/>
<line x1="673" y1="738.5" x2="681.4" y2="738.5" stroke="#000" stroke-width="1"/>
<line x1="1127" y1="738.5" x2="1118.6" y2="738.5" stroke="#000" stroke-width="1"/>
<text transform="translate(664.2 742.7) scale(0.985 1.07)" text-anchor="end">−20</text>
<line x1="673" y1="662.5" x2="1127" y2="662.5" stroke="#000" stroke-width="1" stroke-dasharray="2.08 6.25"/>
<line x1="673" y1="662.5" x2="681.4" y2="662.5" stroke="#000" stroke-width="1"/>
<line x1="1127" y1="662.5" x2="1118.6" y2="662.5" stroke="#000" stroke-width="1"/>
<text transform="translate(664.2 666.7) scale(0.985 1.07)" text-anchor="end">0</text>
<g clip-path="url(#c5)">
<polyline points="823.15,726.65 858.45,840.5 868.16,704.58 867.28,825.5 862.42,1102.63 894.2,811.38 871.25,773.43 907.43,792.4 915.38,825.06 991.28,813.58" fill="none" stroke="#00f" stroke-width="2" stroke-linejoin="round"/>
<circle cx="823.15" cy="726.65" r="3.2" fill="#00f" stroke="#00f" stroke-width="1"/>
<circle cx="858.45" cy="840.5" r="3.2" fill="#00f" stroke="#00f" stroke-width="1"/>
<circle cx="868.16" cy="704.58" r="3.2" fill="#00f" stroke="#00f" stroke-width="1"/>
<circle cx="867.28" cy="825.5" r="3.2" fill="#00f" stroke="#00f" stroke-width="1"/>
<circle cx="862.42" cy="1102.63" r="3.2" fill="#00f" stroke="#00f" stroke-width="1"/>
<circle cx="894.2" cy="811.38" r="3.2" fill="#00f" stroke="#00f" stroke-width="1"/>
<circle cx="871.25" cy="773.43" r="3.2" fill="#00f" stroke="#00f" stroke-width="1"/>
<circle cx="907.43" cy="792.4" r="3.2" fill="#00f" stroke="#00f" stroke-width="1"/>
<circle cx="915.38" cy="825.06" r="3.2" fill="#00f" stroke="#00f" stroke-width="1"/>
<circle cx="991.28" cy="813.58" r="3.2" fill="#00f" stroke="#00f" stroke-width="1"/>
</g>
<rect x="673" y="662" width="454" height="454" fill="none" stroke="#000" stroke-width="2"/>
<text transform="translate(677.88 650.1) scale(0.992 1)" font-size="23.4">Hodogram (V2_V1 MVAV</text>
<text transform="translate(960.41 652.39) scale(1.085 1)" font-size="15.54" font-family='Liberation Serif,DejaVu Serif,serif' fill-opacity="0.85" font-style="italic" letter-spacing="0.93">remaining</text>
<text transform="translate(1044.62 650.1) scale(0.993 1)" font-size="23.4">frame)</text>
<text transform="translate(863.67 1166.4) scale(0.981 1.07)">V2(km/s)</text>
<text transform="translate(604.1 926.9) rotate(-90) translate(0.12 0) scale(0.982 1.07)">V1(km/s)</text>
<text transform="translate(686.08 1092.05) scale(1.150 1)" font-size="19.32" font-family='Liberation Serif,DejaVu Serif,serif' fill-opacity="0.85" font-style="italic">λ</text>
<text transform="translate(694.48 1094.75) scale(1.074 1)" font-size="13.48" font-family='Liberation Serif,DejaVu Serif,serif' fill-opacity="0.85">1</text>
<text transform="translate(703.45 1096.57) scale(1.020 1)" font-size="27.5" font-family='Liberation Serif,DejaVu Serif,serif' fill-opacity="0.85">/</text>
<text transform="translate(714.08 1092.05) scale(1.138 1)" font-size="19.32" font-family='Liberation Serif,DejaVu Serif,serif' fill-opacity="0.85" font-style="italic">λ</text>
<text transform="translate(722.49 1094.85) scale(1.065 1)" font-size="14.05" font-family='Liberation Serif,DejaVu Serif,serif' fill-opacity="0.85">2</text>
<text transform="translate(734.56 1094.43) scale(1.197 1)" font-size="23.64" font-family='Liberation Serif,DejaVu Serif,serif' fill-opacity="0.85">≈</text>
<text transform="translate(755.36 1091.8) scale(0.995 1)" font-size="18.75">5.61</text>
<!-- Hodogram V3-V1 (MVAV) -->
<line x1="1239.5" y1="1116" x2="1239.5" y2="662" stroke="#000" stroke-width="1" stroke-dasharray="2.08 6.25"/>
<line x1="1239.5" y1="1116" x2="1239.5" y2="1107.6" stroke="#000" stroke-width="1"/>
<line x1="1239.5" y1="662" x2="1239.5" y2="670.4" stroke="#000" stroke-width="1"/>
<text transform="translate(1239.02 1137.7) scale(0.985 1.07)" text-anchor="middle">−20</text>
<line x1="1314.5" y1="1116" x2="1314.5" y2="662" stroke="#000" stroke-width="1" stroke-dasharray="2.08 6.25"/>
<line x1="1314.5" y1="1116" x2="1314.5" y2="1107.6" stroke="#000" stroke-width="1"/>
<line x1="1314.5" y1="662" x2="1314.5" y2="670.4" stroke="#000" stroke-width="1"/>
<text transform="translate(1314.69 1137.7) scale(0.985 1.07)" text-anchor="middle">0</text>
<line x1="1390.5" y1="1116" x2="1390.5" y2="662" stroke="#000" stroke-width="1" stroke-dasharray="2.08 6.25"/>
<line x1="1390.5" y1="1116" x2="1390.5" y2="1107.6" stroke="#000" stroke-width="1"/>
<line x1="1390.5" y1="662" x2="1390.5" y2="670.4" stroke="#000" stroke-width="1"/>
<text transform="translate(1390.36 1137.7) scale(0.985 1.07)" text-anchor="middle">20</text>
<line x1="1466.5" y1="1116" x2="1466.5" y2="662" stroke="#000" stroke-width="1" stroke-dasharray="2.08 6.25"/>
<line x1="1466.5" y1="1116" x2="1466.5" y2="1107.6" stroke="#000" stroke-width="1"/>
<line x1="1466.5" y1="662" x2="1466.5" y2="670.4" stroke="#000" stroke-width="1"/>
<text transform="translate(1466.02 1137.7) scale(0.985 1.07)" text-anchor="middle">40</text>
<line x1="1541.5" y1="1116" x2="1541.5" y2="662" stroke="#000" stroke-width="1" stroke-dasharray="2.08 6.25"/>
<line x1="1541.5" y1="1116" x2="1541.5" y2="1107.6" stroke="#000" stroke-width="1"/>
<line x1="1541.5" y1="662" x2="1541.5" y2="670.4" stroke="#000" stroke-width="1"/>
<text transform="translate(1541.69 1137.7) scale(0.985 1.07)" text-anchor="middle">60</text>
<line x1="1617.5" y1="1116" x2="1617.5" y2="662" stroke="#000" stroke-width="1" stroke-dasharray="2.08 6.25"/>
<line x1="1617.5" y1="1116" x2="1617.5" y2="1107.6" stroke="#000" stroke-width="1"/>
<line x1="1617.5" y1="662" x2="1617.5" y2="670.4" stroke="#000" stroke-width="1"/>
<text transform="translate(1617.36 1137.7) scale(0.985 1.07)" text-anchor="middle">80</text>
<line x1="1229" y1="1116.5" x2="1683" y2="1116.5" stroke="#000" stroke-width="1" stroke-dasharray="2.08 6.25"/>
<line x1="1229" y1="1116.5" x2="1237.4" y2="1116.5" stroke="#000" stroke-width="1"/>
<line x1="1683" y1="1116.5" x2="1674.6" y2="1116.5" stroke="#000" stroke-width="1"/>
<text transform="translate(1220.2 1120.7) scale(0.985 1.07)" text-anchor="end">−120</text>
<line x1="1229" y1="1040.5" x2="1683" y2="1040.5" stroke="#000" stroke-width="1" stroke-dasharray="2.08 6.25"/>
<line x1="1229" y1="1040.5" x2="1237.4" y2="1040.5" stroke="#000" stroke-width="1"/>
<line x1="1683" y1="1040.5" x2="1674.6" y2="1040.5" stroke="#000" stroke-width="1"/>
<text transform="translate(1220.2 1044.7) scale(0.985 1.07)" text-anchor="end">−100</text>
<line x1="1229" y1="965.5" x2="1683" y2="965.5" stroke="#000" stroke-width="1" stroke-dasharray="2.08 6.25"/>
<line x1="1229" y1="965.5" x2="1237.4" y2="965.5" stroke="#000" stroke-width="1"/>
<line x1="1683" y1="965.5" x2="1674.6" y2="965.5" stroke="#000" stroke-width="1"/>
<text transform="translate(1220.2 969.7) scale(0.985 1.07)" text-anchor="end">−80</text>
<line x1="1229" y1="889.5" x2="1683" y2="889.5" stroke="#000" stroke-width="1" stroke-dasharray="2.08 6.25"/>
<line x1="1229" y1="889.5" x2="1237.4" y2="889.5" stroke="#000" stroke-width="1"/>
<line x1="1683" y1="889.5" x2="1674.6" y2="889.5" stroke="#000" stroke-width="1"/>
<text transform="translate(1220.2 893.7) scale(0.985 1.07)" text-anchor="end">−60</text>
<line x1="1229" y1="813.5" x2="1683" y2="813.5" stroke="#000" stroke-width="1" stroke-dasharray="2.08 6.25"/>
<line x1="1229" y1="813.5" x2="1237.4" y2="813.5" stroke="#000" stroke-width="1"/>
<line x1="1683" y1="813.5" x2="1674.6" y2="813.5" stroke="#000" stroke-width="1"/>
<text transform="translate(1220.2 817.7) scale(0.985 1.07)" text-anchor="end">−40</text>
<line x1="1229" y1="738.5" x2="1683" y2="738.5" stroke="#000" stroke-width="1" stroke-dasharray="2.08 6.25"/>
<line x1="1229" y1="738.5" x2="1237.4" y2="738.5" stroke="#000" stroke-width="1"/>
<line x1="1683" y1="738.5" x2="1674.6" y2="738.5" stroke="#000" stroke-width="1"/>
<text transform="translate(1220.2 742.7) scale(0.985 1.07)" text-anchor="end">−20</text>
<line x1="1229" y1="662.5" x2="1683" y2="662.5" stroke="#000" stroke-width="1" stroke-dasharray="2.08 6.25"/>
<line x1="1229" y1="662.5" x2="1237.4" y2="662.5" stroke="#000" stroke-width="1"/>
<line x1="1683" y1="662.5" x2="1674.6" y2="662.5" stroke="#000" stroke-width="1"/>
<text transform="translate(1220.2 666.7) scale(0.985 1.07)" text-anchor="end">0</text>
<g clip-path="url(#c6)">
<polyline points="1468.16,726.65 1453.16,840.5 1510.08,704.58 1396.23,825.5 1481.84,1102.63 1433.3,811.38 1450.95,773.43 1450.07,792.4 1455.8,825.5 1469.93,813.58" fill="none" stroke="#00f" stroke-width="2" stroke-linejoin="round"/>
<circle cx="1468.16" cy="726.65" r="3.2" fill="#00f" stroke="#00f" stroke-width="1"/>
<circle cx="1453.16" cy="840.5" r="3.2" fill="#00f" stroke="#00f" stroke-width="1"/>
<circle cx="1510.08" cy="704.58" r="3.2" fill="#00f" stroke="#00f" stroke-width="1"/>
<circle cx="1396.23" cy="825.5" r="3.2" fill="#00f" stroke="#00f" stroke-width="1"/>
<circle cx="1481.84" cy="1102.63" r="3.2" fill="#00f" stroke="#00f" stroke-width="1"/>
<circle cx="1433.3" cy="811.38" r="3.2" fill="#00f" stroke="#00f" stroke-width="1"/>
<circle cx="1450.95" cy="773.43" r="3.2" fill="#00f" stroke="#00f" stroke-width="1"/>
<circle cx="1450.07" cy="792.4" r="3.2" fill="#00f" stroke="#00f" stroke-width="1"/>
<circle cx="1455.8" cy="825.5" r="3.2" fill="#00f" stroke="#00f" stroke-width="1"/>
<circle cx="1469.93" cy="813.58" r="3.2" fill="#00f" stroke="#00f" stroke-width="1"/>
</g>
<rect x="1229" y="662" width="454" height="454" fill="none" stroke="#000" stroke-width="2"/>
<text transform="translate(1233.88 650.1) scale(0.992 1)" font-size="23.4">Hodogram (V3_V1 MVAV</text>
<text transform="translate(1516.41 652.39) scale(1.085 1)" font-size="15.54" font-family='Liberation Serif,DejaVu Serif,serif' fill-opacity="0.85" font-style="italic" letter-spacing="0.93">remaining</text>
<text transform="translate(1600.62 650.1) scale(0.993 1)" font-size="23.4">frame)</text>
<text transform="translate(1419.67 1166.4) scale(0.981 1.07)">V3(km/s)</text>
<text transform="translate(1160.1 926.9) rotate(-90) translate(0.12 0) scale(0.982 1.07)">V1(km/s)</text>
<text transform="translate(1262.28 1092.05) scale(1.150 1)" font-size="19.32" font-family='Liberation Serif,DejaVu Serif,serif' fill-opacity="0.85" font-style="italic">λ</text>
<text transform="translate(1270.68 1094.75) scale(1.074 1)" font-size="13.48" font-family='Liberation Serif,DejaVu Serif,serif' fill-opacity="0.85">1</text>
<text transform="translate(1279.65 1096.57) scale(1.020 1)" font-size="27.5" font-family='Liberation Serif,DejaVu Serif,serif' fill-opacity="0.85">/</text>
<text transform="translate(1290.28 1092.05) scale(1.138 1)" font-size="19.32" font-family='Liberation Serif,DejaVu Serif,serif' fill-opacity="0.85" font-style="italic">λ</text>
<text transform="translate(1298.65 1094.71) scale(1.050 1)" font-size="13.84" font-family='Liberation Serif,DejaVu Serif,serif' fill-opacity="0.85">3</text>
<text transform="translate(1310.76 1094.43) scale(1.197 1)" font-size="23.64" font-family='Liberation Serif,DejaVu Serif,serif' fill-opacity="0.85">≈</text>
<text transform="translate(1330.95 1091.8) scale(0.995 1)" font-size="18.75">12.92</text>
<!-- Magnetic Field (RTN Frame) -->
<g clip-path="url(#c7)">
<line x1="117" y1="1416.5" x2="1683" y2="1416.5" stroke="#000" stroke-width="1" stroke-dasharray="12.5 12.5"/>
<polyline points="117.05,1316 291.05,1322.9 465.05,1322.9 639.05,1325.9 813.05,1324.6 987.05,1328.4 1161.05,1332.7 1335.05,1319 1509.05,1320.3 1683.05,1322.9" fill="none" stroke="#f00" stroke-width="2.08" stroke-linejoin="round"/>
<polyline points="117.05,1486 291.05,1494.1 465.05,1495.8 639.05,1499.7 813.05,1499.7 987.05,1502.7 1161.05,1505.7 1335.05,1492.8 1509.05,1495.4 1683.05,1498.4" fill="none" stroke="#008000" stroke-width="2.08" stroke-linejoin="round"/>
<polyline points="117.05,1435.2 291.05,1435.2 465.05,1430.5 639.05,1429.6 813.05,1424.1 987.05,1428.4 1161.05,1432.2 1335.05,1410 1509.05,1408.3 1683.05,1409.6" fill="none" stroke="#00f" stroke-width="2.08" stroke-linejoin="round"/>
</g>
<line x1="117.5" y1="1527" x2="117.5" y2="1518.6" stroke="#000" stroke-width="1"/>
<line x1="117.5" y1="1305" x2="117.5" y2="1313.4" stroke="#000" stroke-width="1"/>
<text transform="translate(117.45 1549.7) scale(1.005 1.07)" text-anchor="middle">07/02 05:33:37</text>
<line x1="291.5" y1="1527" x2="291.5" y2="1518.6" stroke="#000" stroke-width="1"/>
<line x1="291.5" y1="1305" x2="291.5" y2="1313.4" stroke="#000" stroke-width="1"/>
<text transform="translate(291.45 1549.7) scale(1.005 1.07)" text-anchor="middle">07/02 05:33:38</text>
<line x1="465.5" y1="1527" x2="465.5" y2="1518.6" stroke="#000" stroke-width="1"/>
<line x1="465.5" y1="1305" x2="465.5" y2="1313.4" stroke="#000" stroke-width="1"/>
<text transform="translate(465.45 1549.7) scale(1.005 1.07)" text-anchor="middle">07/02 05:33:39</text>
<line x1="639.5" y1="1527" x2="639.5" y2="1518.6" stroke="#000" stroke-width="1"/>
<line x1="639.5" y1="1305" x2="639.5" y2="1313.4" stroke="#000" stroke-width="1"/>
<text transform="translate(639.45 1549.7) scale(1.005 1.07)" text-anchor="middle">07/02 05:33:40</text>
<line x1="813.5" y1="1527" x2="813.5" y2="1518.6" stroke="#000" stroke-width="1"/>
<line x1="813.5" y1="1305" x2="813.5" y2="1313.4" stroke="#000" stroke-width="1"/>
<text transform="translate(813.45 1549.7) scale(1.005 1.07)" text-anchor="middle">07/02 05:33:41</text>
<line x1="987.5" y1="1527" x2="987.5" y2="1518.6" stroke="#000" stroke-width="1"/>
<line x1="987.5" y1="1305" x2="987.5" y2="1313.4" stroke="#000" stroke-width="1"/>
<text transform="translate(987.45 1549.7) scale(1.005 1.07)" text-anchor="middle">07/02 05:33:42</text>
<line x1="1161.5" y1="1527" x2="1161.5" y2="1518.6" stroke="#000" stroke-width="1"/>
<line x1="1161.5" y1="1305" x2="1161.5" y2="1313.4" stroke="#000" stroke-width="1"/>
<text transform="translate(1161.45 1549.7) scale(1.005 1.07)" text-anchor="middle">07/02 05:33:43</text>
<line x1="1335.5" y1="1527" x2="1335.5" y2="1518.6" stroke="#000" stroke-width="1"/>
<line x1="1335.5" y1="1305" x2="1335.5" y2="1313.4" stroke="#000" stroke-width="1"/>
<text transform="translate(1335.45 1549.7) scale(1.005 1.07)" text-anchor="middle">07/02 05:33:44</text>
<line x1="1509.5" y1="1527" x2="1509.5" y2="1518.6" stroke="#000" stroke-width="1"/>
<line x1="1509.5" y1="1305" x2="1509.5" y2="1313.4" stroke="#000" stroke-width="1"/>
<text transform="translate(1509.45 1549.7) scale(1.005 1.07)" text-anchor="middle">07/02 05:33:45</text>
<line x1="1683.5" y1="1527" x2="1683.5" y2="1518.6" stroke="#000" stroke-width="1"/>
<line x1="1683.5" y1="1305" x2="1683.5" y2="1313.4" stroke="#000" stroke-width="1"/>
<text transform="translate(1683.45 1549.7) scale(1.005 1.07)" text-anchor="middle">07/02 05:33:46</text>
<line x1="117" y1="1527.5" x2="125.4" y2="1527.5" stroke="#000" stroke-width="1"/>
<line x1="1683" y1="1527.5" x2="1674.6" y2="1527.5" stroke="#000" stroke-width="1"/>
<text transform="translate(108.2 1531.7) scale(0.985 1.07)" text-anchor="end">−150</text>
<line x1="117" y1="1490.5" x2="125.4" y2="1490.5" stroke="#000" stroke-width="1"/>
<line x1="1683" y1="1490.5" x2="1674.6" y2="1490.5" stroke="#000" stroke-width="1"/>
<text transform="translate(108.2 1494.7) scale(0.985 1.07)" text-anchor="end">−100</text>
<line x1="117" y1="1453.5" x2="125.4" y2="1453.5" stroke="#000" stroke-width="1"/>
<line x1="1683" y1="1453.5" x2="1674.6" y2="1453.5" stroke="#000" stroke-width="1"/>
<text transform="translate(108.2 1457.7) scale(0.985 1.07)" text-anchor="end">−50</text>
<line x1="117" y1="1416.5" x2="125.4" y2="1416.5" stroke="#000" stroke-width="1"/>
<line x1="1683" y1="1416.5" x2="1674.6" y2="1416.5" stroke="#000" stroke-width="1"/>
<text transform="translate(108.2 1420.7) scale(0.985 1.07)" text-anchor="end">0</text>
<line x1="117" y1="1379.5" x2="125.4" y2="1379.5" stroke="#000" stroke-width="1"/>
<line x1="1683" y1="1379.5" x2="1674.6" y2="1379.5" stroke="#000" stroke-width="1"/>
<text transform="translate(108.2 1383.7) scale(0.985 1.07)" text-anchor="end">50</text>
<line x1="117" y1="1342.5" x2="125.4" y2="1342.5" stroke="#000" stroke-width="1"/>
<line x1="1683" y1="1342.5" x2="1674.6" y2="1342.5" stroke="#000" stroke-width="1"/>
<text transform="translate(108.2 1346.7) scale(0.985 1.07)" text-anchor="end">100</text>
<line x1="117" y1="1305.5" x2="125.4" y2="1305.5" stroke="#000" stroke-width="1"/>
<line x1="1683" y1="1305.5" x2="1674.6" y2="1305.5" stroke="#000" stroke-width="1"/>
<text transform="translate(108.2 1309.7) scale(0.985 1.07)" text-anchor="end">150</text>
<rect x="117" y="1305" width="1566" height="222" fill="none" stroke="#000" stroke-width="2"/>
<text transform="translate(740.46 1294.6) scale(0.997 1)" font-size="23.4">Magnetic Field (RTN Frame)</text>
<text transform="translate(49 1439.3) rotate(-90) translate(-1.32 0) scale(0.961 1.07)">B(nT)</text>
<rect x="1604" y="1312" width="72" height="72" fill="#fff" stroke="#000" stroke-width="2"/>
<line x1="1613" y1="1325" x2="1635.5" y2="1325" stroke="#f00" stroke-width="2"/>
<text transform="translate(1650.6 1329.9) scale(0.970 1.03)" font-size="15">Br</text>
<line x1="1613" y1="1347" x2="1635.5" y2="1347" stroke="#008000" stroke-width="2"/>
<text transform="translate(1650.6 1351.9) scale(0.970 1.03)" font-size="15">Bt</text>
<line x1="1613" y1="1370" x2="1635.5" y2="1370" stroke="#00f" stroke-width="2"/>
<text transform="translate(1650.6 1374.9) scale(0.970 1.03)" font-size="15">Bn</text>
<!-- Magnetic Field (Flux Rope Frame) -->
<g clip-path="url(#c8)">
<line x1="117" y1="1766.5" x2="1683" y2="1766.5" stroke="#000" stroke-width="1" stroke-dasharray="12.5 12.5"/>
<polyline points="117.05,1860.4 291.05,1855.3 465.05,1855.7 639.05,1854 813.05,1854.9 987.05,1852.3 1161.05,1848.9 1335.05,1859.1 1509.05,1858.3 1683.05,1856.6" fill="none" stroke="#f00" stroke-width="2.08" stroke-linejoin="round"/>
<polyline points="117.05,1754.1 291.05,1755.8 465.05,1759.6 639.05,1760.9 813.05,1766 987.05,1762.2 1161.05,1760.1 1335.05,1776.3 1509.05,1778 1683.05,1778" fill="none" stroke="#008000" stroke-width="2.08" stroke-linejoin="round"/>
<polyline points="117.05,1719.1 291.05,1711 465.05,1710.5 639.05,1707.1 813.05,1708.4 987.05,1704.1 1161.05,1699.9 1335.05,1716.5 1509.05,1714.4 1683.05,1711.8" fill="none" stroke="#00f" stroke-width="2.08" stroke-linejoin="round"/>
<polyline points="117.05,1659.3 291.05,1659.7 465.05,1659.5 639.05,1659.3 813.05,1659.3 987.05,1659.3 1161.05,1659.3 1335.05,1659.1 1509.05,1658.6 1683.05,1658.4" fill="none" stroke="#000" stroke-width="2.08" stroke-linejoin="round"/>
</g>
<line x1="117.5" y1="1861" x2="117.5" y2="1852.6" stroke="#000" stroke-width="1"/>
<line x1="117.5" y1="1639" x2="117.5" y2="1647.4" stroke="#000" stroke-width="1"/>
<text transform="translate(117.45 1883.7) scale(1.005 1.07)" text-anchor="middle">07/02 05:33:37</text>
<line x1="291.5" y1="1861" x2="291.5" y2="1852.6" stroke="#000" stroke-width="1"/>
<line x1="291.5" y1="1639" x2="291.5" y2="1647.4" stroke="#000" stroke-width="1"/>
<text transform="translate(291.45 1883.7) scale(1.005 1.07)" text-anchor="middle">07/02 05:33:38</text>
<line x1="465.5" y1="1861" x2="465.5" y2="1852.6" stroke="#000" stroke-width="1"/>
<line x1="465.5" y1="1639" x2="465.5" y2="1647.4" stroke="#000" stroke-width="1"/>
<text transform="translate(465.45 1883.7) scale(1.005 1.07)" text-anchor="middle">07/02 05:33:39</text>
<line x1="639.5" y1="1861" x2="639.5" y2="1852.6" stroke="#000" stroke-width="1"/>
<line x1="639.5" y1="1639" x2="639.5" y2="1647.4" stroke="#000" stroke-width="1"/>
<text transform="translate(639.45 1883.7) scale(1.005 1.07)" text-anchor="middle">07/02 05:33:40</text>
<line x1="813.5" y1="1861" x2="813.5" y2="1852.6" stroke="#000" stroke-width="1"/>
<line x1="813.5" y1="1639" x2="813.5" y2="1647.4" stroke="#000" stroke-width="1"/>
<text transform="translate(813.45 1883.7) scale(1.005 1.07)" text-anchor="middle">07/02 05:33:41</text>
<line x1="987.5" y1="1861" x2="987.5" y2="1852.6" stroke="#000" stroke-width="1"/>
<line x1="987.5" y1="1639" x2="987.5" y2="1647.4" stroke="#000" stroke-width="1"/>
<text transform="translate(987.45 1883.7) scale(1.005 1.07)" text-anchor="middle">07/02 05:33:42</text>
<line x1="1161.5" y1="1861" x2="1161.5" y2="1852.6" stroke="#000" stroke-width="1"/>
<line x1="1161.5" y1="1639" x2="1161.5" y2="1647.4" stroke="#000" stroke-width="1"/>
<text transform="translate(1161.45 1883.7) scale(1.005 1.07)" text-anchor="middle">07/02 05:33:43</text>
<line x1="1335.5" y1="1861" x2="1335.5" y2="1852.6" stroke="#000" stroke-width="1"/>
<line x1="1335.5" y1="1639" x2="1335.5" y2="1647.4" stroke="#000" stroke-width="1"/>
<text transform="translate(1335.45 1883.7) scale(1.005 1.07)" text-anchor="middle">07/02 05:33:44</text>
<line x1="1509.5" y1="1861" x2="1509.5" y2="1852.6" stroke="#000" stroke-width="1"/>
<line x1="1509.5" y1="1639" x2="1509.5" y2="1647.4" stroke="#000" stroke-width="1"/>
<text transform="translate(1509.45 1883.7) scale(1.005 1.07)" text-anchor="middle">07/02 05:33:45</text>
<line x1="1683.5" y1="1861" x2="1683.5" y2="1852.6" stroke="#000" stroke-width="1"/>
<line x1="1683.5" y1="1639" x2="1683.5" y2="1647.4" stroke="#000" stroke-width="1"/>
<text transform="translate(1683.45 1883.7) scale(1.005 1.07)" text-anchor="middle">07/02 05:33:46</text>
<line x1="117" y1="1861.5" x2="125.4" y2="1861.5" stroke="#000" stroke-width="1"/>
<line x1="1683" y1="1861.5" x2="1674.6" y2="1861.5" stroke="#000" stroke-width="1"/>
<text transform="translate(108.2 1865.7) scale(0.985 1.07)" text-anchor="end">−150</text>
<line x1="117" y1="1829.5" x2="125.4" y2="1829.5" stroke="#000" stroke-width="1"/>
<line x1="1683" y1="1829.5" x2="1674.6" y2="1829.5" stroke="#000" stroke-width="1"/>
<text transform="translate(108.2 1833.7) scale(0.985 1.07)" text-anchor="end">−100</text>
<line x1="117" y1="1797.5" x2="125.4" y2="1797.5" stroke="#000" stroke-width="1"/>
<line x1="1683" y1="1797.5" x2="1674.6" y2="1797.5" stroke="#000" stroke-width="1"/>
<text transform="translate(108.2 1801.7) scale(0.985 1.07)" text-anchor="end">−50</text>
<line x1="117" y1="1766.5" x2="125.4" y2="1766.5" stroke="#000" stroke-width="1"/>
<line x1="1683" y1="1766.5" x2="1674.6" y2="1766.5" stroke="#000" stroke-width="1"/>
<text transform="translate(108.2 1770.7) scale(0.985 1.07)" text-anchor="end">0</text>
<line x1="117" y1="1734.5" x2="125.4" y2="1734.5" stroke="#000" stroke-width="1"/>
<line x1="1683" y1="1734.5" x2="1674.6" y2="1734.5" stroke="#000" stroke-width="1"/>
<text transform="translate(108.2 1738.7) scale(0.985 1.07)" text-anchor="end">50</text>
<line x1="117" y1="1702.5" x2="125.4" y2="1702.5" stroke="#000" stroke-width="1"/>
<line x1="1683" y1="1702.5" x2="1674.6" y2="1702.5" stroke="#000" stroke-width="1"/>
<text transform="translate(108.2 1706.7) scale(0.985 1.07)" text-anchor="end">100</text>
<line x1="117" y1="1670.5" x2="125.4" y2="1670.5" stroke="#000" stroke-width="1"/>
<line x1="1683" y1="1670.5" x2="1674.6" y2="1670.5" stroke="#000" stroke-width="1"/>
<text transform="translate(108.2 1674.7) scale(0.985 1.07)" text-anchor="end">150</text>
<line x1="117" y1="1639.5" x2="125.4" y2="1639.5" stroke="#000" stroke-width="1"/>
<line x1="1683" y1="1639.5" x2="1674.6" y2="1639.5" stroke="#000" stroke-width="1"/>
<text transform="translate(108.2 1643.7) scale(0.985 1.07)" text-anchor="end">200</text>
<rect x="117" y="1639" width="1566" height="222" fill="none" stroke="#000" stroke-width="2"/>
<text transform="translate(706.48 1628.3) scale(0.991 1)" font-size="23.4">Magnetic Field (Flux Rope Frame)</text>
<text transform="translate(49 1772.4) rotate(-90) translate(-1.32 0) scale(0.961 1.07)">B(nT)</text>
<rect x="1601" y="1646" width="75" height="94" fill="#fff" stroke="#000" stroke-width="2"/>
<line x1="1610" y1="1659" x2="1632.5" y2="1659" stroke="#f00" stroke-width="2"/>
<text transform="translate(1647.6 1663.9) scale(0.970 1.03)" font-size="15">Bx'</text>
<line x1="1610" y1="1681" x2="1632.5" y2="1681" stroke="#008000" stroke-width="2"/>
<text transform="translate(1647.6 1685.9) scale(0.970 1.03)" font-size="15">By'</text>
<line x1="1610" y1="1703" x2="1632.5" y2="1703" stroke="#00f" stroke-width="2"/>
<text transform="translate(1647.6 1707.9) scale(0.970 1.03)" font-size="15">Bz'</text>
<line x1="1610" y1="1725" x2="1632.5" y2="1725" stroke="#000" stroke-width="2"/>
<text transform="translate(1647.6 1729.9) scale(0.970 1.03)" font-size="15">|B|</text>
<!-- Solar Wind Velocity (RTN Frame) -->
<g clip-path="url(#c9)">
<polyline points="117.05,1994.4 291.05,1994 465.05,1991.8 639.05,1991.4 813.05,1990.1 987.05,2014.9 1161.05,1985.9 1335.05,1997 1509.05,1995.3 1683.05,1992.7" fill="none" stroke="#f00" stroke-width="2.08" stroke-linejoin="round"/>
<polyline points="117.05,2160.5 291.05,2148.1 465.05,2150.3 639.05,2146.9 813.05,2146 987.05,2119.1 1161.05,2139.2 1335.05,2155 1509.05,2139.2 1683.05,2144.7" fill="none" stroke="#008000" stroke-width="2.08" stroke-linejoin="round"/>
<polyline points="117.05,2143 291.05,2148.1 465.05,2152.4 639.05,2158.8 813.05,2150.7 987.05,2117 1161.05,2150.3 1335.05,2170.8 1509.05,2151.1 1683.05,2170.4" fill="none" stroke="#00f" stroke-width="2.08" stroke-linejoin="round"/>
</g>
<line x1="117.5" y1="2194" x2="117.5" y2="2185.6" stroke="#000" stroke-width="1"/>
<line x1="117.5" y1="1972" x2="117.5" y2="1980.4" stroke="#000" stroke-width="1"/>
<text transform="translate(117.45 2216.7) scale(1.005 1.07)" text-anchor="middle">07/02 05:33:37</text>
<line x1="291.5" y1="2194" x2="291.5" y2="2185.6" stroke="#000" stroke-width="1"/>
<line x1="291.5" y1="1972" x2="291.5" y2="1980.4" stroke="#000" stroke-width="1"/>
<text transform="translate(291.45 2216.7) scale(1.005 1.07)" text-anchor="middle">07/02 05:33:38</text>
<line x1="465.5" y1="2194" x2="465.5" y2="2185.6" stroke="#000" stroke-width="1"/>
<line x1="465.5" y1="1972" x2="465.5" y2="1980.4" stroke="#000" stroke-width="1"/>
<text transform="translate(465.45 2216.7) scale(1.005 1.07)" text-anchor="middle">07/02 05:33:39</text>
<line x1="639.5" y1="2194" x2="639.5" y2="2185.6" stroke="#000" stroke-width="1"/>
<line x1="639.5" y1="1972" x2="639.5" y2="1980.4" stroke="#000" stroke-width="1"/>
<text transform="translate(639.45 2216.7) scale(1.005 1.07)" text-anchor="middle">07/02 05:33:40</text>
<line x1="813.5" y1="2194" x2="813.5" y2="2185.6" stroke="#000" stroke-width="1"/>
<line x1="813.5" y1="1972" x2="813.5" y2="1980.4" stroke="#000" stroke-width="1"/>
<text transform="translate(813.45 2216.7) scale(1.005 1.07)" text-anchor="middle">07/02 05:33:41</text>
<line x1="987.5" y1="2194" x2="987.5" y2="2185.6" stroke="#000" stroke-width="1"/>
<line x1="987.5" y1="1972" x2="987.5" y2="1980.4" stroke="#000" stroke-width="1"/>
<text transform="translate(987.45 2216.7) scale(1.005 1.07)" text-anchor="middle">07/02 05:33:42</text>
<line x1="1161.5" y1="2194" x2="1161.5" y2="2185.6" stroke="#000" stroke-width="1"/>
<line x1="1161.5" y1="1972" x2="1161.5" y2="1980.4" stroke="#000" stroke-width="1"/>
<text transform="translate(1161.45 2216.7) scale(1.005 1.07)" text-anchor="middle">07/02 05:33:43</text>
<line x1="1335.5" y1="2194" x2="1335.5" y2="2185.6" stroke="#000" stroke-width="1"/>
<line x1="1335.5" y1="1972" x2="1335.5" y2="1980.4" stroke="#000" stroke-width="1"/>
<text transform="translate(1335.45 2216.7) scale(1.005 1.07)" text-anchor="middle">07/02 05:33:44</text>
<line x1="1509.5" y1="2194" x2="1509.5" y2="2185.6" stroke="#000" stroke-width="1"/>
<line x1="1509.5" y1="1972" x2="1509.5" y2="1980.4" stroke="#000" stroke-width="1"/>
<text transform="translate(1509.45 2216.7) scale(1.005 1.07)" text-anchor="middle">07/02 05:33:45</text>
<line x1="1683.5" y1="2194" x2="1683.5" y2="2185.6" stroke="#000" stroke-width="1"/>
<line x1="1683.5" y1="1972" x2="1683.5" y2="1980.4" stroke="#000" stroke-width="1"/>
<text transform="translate(1683.45 2216.7) scale(1.005 1.07)" text-anchor="middle">07/02 05:33:46</text>
<line x1="117" y1="2194.5" x2="125.4" y2="2194.5" stroke="#000" stroke-width="1"/>
<line x1="1683" y1="2194.5" x2="1674.6" y2="2194.5" stroke="#000" stroke-width="1"/>
<text transform="translate(108.2 2198.7) scale(0.985 1.07)" text-anchor="end">−50</text>
<line x1="117" y1="2163.5" x2="125.4" y2="2163.5" stroke="#000" stroke-width="1"/>
<line x1="1683" y1="2163.5" x2="1674.6" y2="2163.5" stroke="#000" stroke-width="1"/>
<text transform="translate(108.2 2167.7) scale(0.985 1.07)" text-anchor="end">0</text>
<line x1="117" y1="2131.5" x2="125.4" y2="2131.5" stroke="#000" stroke-width="1"/>
<line x1="1683" y1="2131.5" x2="1674.6" y2="2131.5" stroke="#000" stroke-width="1"/>
<text transform="translate(108.2 2135.7) scale(0.985 1.07)" text-anchor="end">50</text>
<line x1="117" y1="2099.5" x2="125.4" y2="2099.5" stroke="#000" stroke-width="1"/>
<line x1="1683" y1="2099.5" x2="1674.6" y2="2099.5" stroke="#000" stroke-width="1"/>
<text transform="translate(108.2 2103.7) scale(0.985 1.07)" text-anchor="end">100</text>
<line x1="117" y1="2067.5" x2="125.4" y2="2067.5" stroke="#000" stroke-width="1"/>
<line x1="1683" y1="2067.5" x2="1674.6" y2="2067.5" stroke="#000" stroke-width="1"/>
<text transform="translate(108.2 2071.7) scale(0.985 1.07)" text-anchor="end">150</text>
<line x1="117" y1="2036.5" x2="125.4" y2="2036.5" stroke="#000" stroke-width="1"/>
<line x1="1683" y1="2036.5" x2="1674.6" y2="2036.5" stroke="#000" stroke-width="1"/>
<text transform="translate(108.2 2040.7) scale(0.985 1.07)" text-anchor="end">200</text>
<line x1="117" y1="2004.5" x2="125.4" y2="2004.5" stroke="#000" stroke-width="1"/>
<line x1="1683" y1="2004.5" x2="1674.6" y2="2004.5" stroke="#000" stroke-width="1"/>
<text transform="translate(108.2 2008.7) scale(0.985 1.07)" text-anchor="end">250</text>
<line x1="117" y1="1972.5" x2="125.4" y2="1972.5" stroke="#000" stroke-width="1"/>
<line x1="1683" y1="1972.5" x2="1674.6" y2="1972.5" stroke="#000" stroke-width="1"/>
<text transform="translate(108.2 1976.7) scale(0.985 1.07)" text-anchor="end">300</text>
<rect x="117" y="1972" width="1566" height="222" fill="none" stroke="#000" stroke-width="2"/>
<text transform="translate(712.61 1962) scale(0.994 1)" font-size="23.4">Solar Wind Velocity (RTN Frame)</text>
<text transform="translate(57.8 2127.9) rotate(-90) translate(0.12 0) scale(0.985 1.07)">Vsw(km/s)</text>
<rect x="1604" y="1979" width="72" height="72" fill="#fff" stroke="#000" stroke-width="2"/>
<line x1="1613" y1="1992" x2="1635.5" y2="1992" stroke="#f00" stroke-width="2"/>
<text transform="translate(1650.6 1996.9) scale(0.970 1.03)" font-size="15">Vr</text>
<line x1="1613" y1="2014" x2="1635.5" y2="2014" stroke="#008000" stroke-width="2"/>
<text transform="translate(1650.6 2018.9) scale(0.970 1.03)" font-size="15">Vt</text>
<line x1="1613" y1="2037" x2="1635.5" y2="2037" stroke="#00f" stroke-width="2"/>
<text transform="translate(1650.6 2041.9) scale(0.970 1.03)" font-size="15">Vn</text>
<text transform="translate(0 0) rotate(-90) translate(-2424.41 52.57) scale(1.254 1)" font-size="16.79" font-family='Liberation Serif,DejaVu Serif,serif' fill-opacity="0.85" font-style="italic">β</text>
<text transform="translate(0 0) rotate(-90) translate(-2415.78 54.98) scale(1.222 1)" font-size="10.67" font-family='Liberation Serif,DejaVu Serif,serif' fill-opacity="0.85" font-style="italic">p</text>
<!-- Plasma Beta -->
<g clip-path="url(#c10)">
<polyline points="117.05,2496.8 291.05,2318.7 465.05,2334.5 639.05,2347.8 813.05,2313.2 987.05,2521.2 1161.05,2338 1335.05,2343.5 1509.05,2306.4 1683.05,2324.7" fill="none" stroke="#00f" stroke-width="2.08" stroke-linejoin="round"/>
</g>
<line x1="117.5" y1="2528" x2="117.5" y2="2519.6" stroke="#000" stroke-width="1"/>
<line x1="117.5" y1="2306" x2="117.5" y2="2314.4" stroke="#000" stroke-width="1"/>
<text transform="translate(117.45 2550.7) scale(1.005 1.07)" text-anchor="middle">07/02 05:33:37</text>
<line x1="291.5" y1="2528" x2="291.5" y2="2519.6" stroke="#000" stroke-width="1"/>
<line x1="291.5" y1="2306" x2="291.5" y2="2314.4" stroke="#000" stroke-width="1"/>
<text transform="translate(291.45 2550.7) scale(1.005 1.07)" text-anchor="middle">07/02 05:33:38</text>
<line x1="465.5" y1="2528" x2="465.5" y2="2519.6" stroke="#000" stroke-width="1"/>
<line x1="465.5" y1="2306" x2="465.5" y2="2314.4" stroke="#000" stroke-width="1"/>
<text transform="translate(465.45 2550.7) scale(1.005 1.07)" text-anchor="middle">07/02 05:33:39</text>
<line x1="639.5" y1="2528" x2="639.5" y2="2519.6" stroke="#000" stroke-width="1"/>
<line x1="639.5" y1="2306" x2="639.5" y2="2314.4" stroke="#000" stroke-width="1"/>
<text transform="translate(639.45 2550.7) scale(1.005 1.07)" text-anchor="middle">07/02 05:33:40</text>
<line x1="813.5" y1="2528" x2="813.5" y2="2519.6" stroke="#000" stroke-width="1"/>
<line x1="813.5" y1="2306" x2="813.5" y2="2314.4" stroke="#000" stroke-width="1"/>
<text transform="translate(813.45 2550.7) scale(1.005 1.07)" text-anchor="middle">07/02 05:33:41</text>
<line x1="987.5" y1="2528" x2="987.5" y2="2519.6" stroke="#000" stroke-width="1"/>
<line x1="987.5" y1="2306" x2="987.5" y2="2314.4" stroke="#000" stroke-width="1"/>
<text transform="translate(987.45 2550.7) scale(1.005 1.07)" text-anchor="middle">07/02 05:33:42</text>
<line x1="1161.5" y1="2528" x2="1161.5" y2="2519.6" stroke="#000" stroke-width="1"/>
<line x1="1161.5" y1="2306" x2="1161.5" y2="2314.4" stroke="#000" stroke-width="1"/>
<text transform="translate(1161.45 2550.7) scale(1.005 1.07)" text-anchor="middle">07/02 05:33:43</text>
<line x1="1335.5" y1="2528" x2="1335.5" y2="2519.6" stroke="#000" stroke-width="1"/>
<line x1="1335.5" y1="2306" x2="1335.5" y2="2314.4" stroke="#000" stroke-width="1"/>
<text transform="translate(1335.45 2550.7) scale(1.005 1.07)" text-anchor="middle">07/02 05:33:44</text>
<line x1="1509.5" y1="2528" x2="1509.5" y2="2519.6" stroke="#000" stroke-width="1"/>
<line x1="1509.5" y1="2306" x2="1509.5" y2="2314.4" stroke="#000" stroke-width="1"/>
<text transform="translate(1509.45 2550.7) scale(1.005 1.07)" text-anchor="middle">07/02 05:33:45</text>
<line x1="1683.5" y1="2528" x2="1683.5" y2="2519.6" stroke="#000" stroke-width="1"/>
<line x1="1683.5" y1="2306" x2="1683.5" y2="2314.4" stroke="#000" stroke-width="1"/>
<text transform="translate(1683.45 2550.7) scale(1.005 1.07)" text-anchor="middle">07/02 05:33:46</text>
<line x1="117" y1="2528.5" x2="125.4" y2="2528.5" stroke="#000" stroke-width="1"/>
<line x1="1683" y1="2528.5" x2="1674.6" y2="2528.5" stroke="#000" stroke-width="1"/>
<text transform="translate(108.2 2532.7) scale(0.985 1.07)" text-anchor="end">0.00</text>
<line x1="117" y1="2483.5" x2="125.4" y2="2483.5" stroke="#000" stroke-width="1"/>
<line x1="1683" y1="2483.5" x2="1674.6" y2="2483.5" stroke="#000" stroke-width="1"/>
<text transform="translate(108.2 2487.7) scale(0.985 1.07)" text-anchor="end">0.01</text>
<line x1="117" y1="2439.5" x2="125.4" y2="2439.5" stroke="#000" stroke-width="1"/>
<line x1="1683" y1="2439.5" x2="1674.6" y2="2439.5" stroke="#000" stroke-width="1"/>
<text transform="translate(108.2 2443.7) scale(0.985 1.07)" text-anchor="end">0.02</text>
<line x1="117" y1="2395.5" x2="125.4" y2="2395.5" stroke="#000" stroke-width="1"/>
<line x1="1683" y1="2395.5" x2="1674.6" y2="2395.5" stroke="#000" stroke-width="1"/>
<text transform="translate(108.2 2399.7) scale(0.985 1.07)" text-anchor="end">0.03</text>
<line x1="117" y1="2350.5" x2="125.4" y2="2350.5" stroke="#000" stroke-width="1"/>
<line x1="1683" y1="2350.5" x2="1674.6" y2="2350.5" stroke="#000" stroke-width="1"/>
<text transform="translate(108.2 2354.7) scale(0.985 1.07)" text-anchor="end">0.04</text>
<line x1="117" y1="2306.5" x2="125.4" y2="2306.5" stroke="#000" stroke-width="1"/>
<line x1="1683" y1="2306.5" x2="1674.6" y2="2306.5" stroke="#000" stroke-width="1"/>
<text transform="translate(108.2 2310.7) scale(0.985 1.07)" text-anchor="end">0.05</text>
<rect x="117" y="2306" width="1566" height="222" fill="none" stroke="#000" stroke-width="2"/>
<text transform="translate(828.49 2294.8) scale(0.985 1)" font-size="23.4">Plasma Beta</text>
<!-- Proton Number Density -->
<g clip-path="url(#c11)">
<polyline points="117.05,2788.4 291.05,2688.9 465.05,2706.4 639.05,2707.7 813.05,2692.7 987.05,2845.2 1161.05,2711.9 1335.05,2698.3 1509.05,2666.3 1683.05,2690.6" fill="none" stroke="#00f" stroke-width="2.08" stroke-linejoin="round"/>
</g>
<line x1="117.5" y1="2861" x2="117.5" y2="2852.6" stroke="#000" stroke-width="1"/>
<line x1="117.5" y1="2639" x2="117.5" y2="2647.4" stroke="#000" stroke-width="1"/>
<text transform="translate(117.45 2883.7) scale(1.005 1.07)" text-anchor="middle">07/02 05:33:37</text>
<line x1="291.5" y1="2861" x2="291.5" y2="2852.6" stroke="#000" stroke-width="1"/>
<line x1="291.5" y1="2639" x2="291.5" y2="2647.4" stroke="#000" stroke-width="1"/>
<text transform="translate(291.45 2883.7) scale(1.005 1.07)" text-anchor="middle">07/02 05:33:38</text>
<line x1="465.5" y1="2861" x2="465.5" y2="2852.6" stroke="#000" stroke-width="1"/>
<line x1="465.5" y1="2639" x2="465.5" y2="2647.4" stroke="#000" stroke-width="1"/>
<text transform="translate(465.45 2883.7) scale(1.005 1.07)" text-anchor="middle">07/02 05:33:39</text>
<line x1="639.5" y1="2861" x2="639.5" y2="2852.6" stroke="#000" stroke-width="1"/>
<line x1="639.5" y1="2639" x2="639.5" y2="2647.4" stroke="#000" stroke-width="1"/>
<text transform="translate(639.45 2883.7) scale(1.005 1.07)" text-anchor="middle">07/02 05:33:40</text>
<line x1="813.5" y1="2861" x2="813.5" y2="2852.6" stroke="#000" stroke-width="1"/>
<line x1="813.5" y1="2639" x2="813.5" y2="2647.4" stroke="#000" stroke-width="1"/>
<text transform="translate(813.45 2883.7) scale(1.005 1.07)" text-anchor="middle">07/02 05:33:41</text>
<line x1="987.5" y1="2861" x2="987.5" y2="2852.6" stroke="#000" stroke-width="1"/>
<line x1="987.5" y1="2639" x2="987.5" y2="2647.4" stroke="#000" stroke-width="1"/>
<text transform="translate(987.45 2883.7) scale(1.005 1.07)" text-anchor="middle">07/02 05:33:42</text>
<line x1="1161.5" y1="2861" x2="1161.5" y2="2852.6" stroke="#000" stroke-width="1"/>
<line x1="1161.5" y1="2639" x2="1161.5" y2="2647.4" stroke="#000" stroke-width="1"/>
<text transform="translate(1161.45 2883.7) scale(1.005 1.07)" text-anchor="middle">07/02 05:33:43</text>
<line x1="1335.5" y1="2861" x2="1335.5" y2="2852.6" stroke="#000" stroke-width="1"/>
<line x1="1335.5" y1="2639" x2="1335.5" y2="2647.4" stroke="#000" stroke-width="1"/>
<text transform="translate(1335.45 2883.7) scale(1.005 1.07)" text-anchor="middle">07/02 05:33:44</text>
<line x1="1509.5" y1="2861" x2="1509.5" y2="2852.6" stroke="#000" stroke-width="1"/>
<line x1="1509.5" y1="2639" x2="1509.5" y2="2647.4" stroke="#000" stroke-width="1"/>
<text transform="translate(1509.45 2883.7) scale(1.005 1.07)" text-anchor="middle">07/02 05:33:45</text>
<line x1="1683.5" y1="2861" x2="1683.5" y2="2852.6" stroke="#000" stroke-width="1"/>
<line x1="1683.5" y1="2639" x2="1683.5" y2="2647.4" stroke="#000" stroke-width="1"/>
<text transform="translate(1683.45 2883.7) scale(1.005 1.07)" text-anchor="middle">07/02 05:33:46</text>
<line x1="117" y1="2861.5" x2="125.4" y2="2861.5" stroke="#000" stroke-width="1"/>
<line x1="1683" y1="2861.5" x2="1674.6" y2="2861.5" stroke="#000" stroke-width="1"/>
<text transform="translate(108.2 2865.7) scale(0.985 1.07)" text-anchor="end">100</text>
<line x1="117" y1="2824.5" x2="125.4" y2="2824.5" stroke="#000" stroke-width="1"/>
<line x1="1683" y1="2824.5" x2="1674.6" y2="2824.5" stroke="#000" stroke-width="1"/>
<text transform="translate(108.2 2828.7) scale(0.985 1.07)" text-anchor="end">150</text>
<line x1="117" y1="2787.5" x2="125.4" y2="2787.5" stroke="#000" stroke-width="1"/>
<line x1="1683" y1="2787.5" x2="1674.6" y2="2787.5" stroke="#000" stroke-width="1"/>
<text transform="translate(108.2 2791.7) scale(0.985 1.07)" text-anchor="end">200</text>
<line x1="117" y1="2750.5" x2="125.4" y2="2750.5" stroke="#000" stroke-width="1"/>
<line x1="1683" y1="2750.5" x2="1674.6" y2="2750.5" stroke="#000" stroke-width="1"/>
<text transform="translate(108.2 2754.7) scale(0.985 1.07)" text-anchor="end">250</text>
<line x1="117" y1="2713.5" x2="125.4" y2="2713.5" stroke="#000" stroke-width="1"/>
<line x1="1683" y1="2713.5" x2="1674.6" y2="2713.5" stroke="#000" stroke-width="1"/>
<text transform="translate(108.2 2717.7) scale(0.985 1.07)" text-anchor="end">300</text>
<line x1="117" y1="2676.5" x2="125.4" y2="2676.5" stroke="#000" stroke-width="1"/>
<line x1="1683" y1="2676.5" x2="1674.6" y2="2676.5" stroke="#000" stroke-width="1"/>
<text transform="translate(108.2 2680.7) scale(0.985 1.07)" text-anchor="end">350</text>
<line x1="117" y1="2639.5" x2="125.4" y2="2639.5" stroke="#000" stroke-width="1"/>
<line x1="1683" y1="2639.5" x2="1674.6" y2="2639.5" stroke="#000" stroke-width="1"/>
<text transform="translate(108.2 2643.7) scale(0.985 1.07)" text-anchor="end">400</text>
<rect x="117" y="2639" width="1566" height="222" fill="none" stroke="#000" stroke-width="2"/>
<text transform="translate(765.09 2629) scale(0.985 1)" font-size="23.4">Proton Number Density</text>
<text transform="translate(63.1 2787.4) rotate(-90) translate(-1.34 0) scale(0.972 1.07)">Np(#/cc)</text>
<text transform="translate(727.26 2961) scale(0.999 1)" font-size="23.4">Proton Temperature and</text>
<text transform="translate(1014.19 2961.25) scale(1.271 1)" font-size="23.36" font-family='Liberation Serif,DejaVu Serif,serif' fill-opacity="0.85" font-style="italic">T</text>
<text transform="translate(1030 2963.9) scale(1.216 1)" font-size="14.55" font-family='Liberation Serif,DejaVu Serif,serif' fill-opacity="0.85" font-style="italic">e</text>
<text transform="translate(1039.75 2966.71) scale(0.973 1)" font-size="34.38" font-family='Liberation Serif,DejaVu Serif,serif' fill-opacity="0.85">/</text>
<text transform="translate(1048.56 2961.25) scale(1.224 1)" font-size="23.36" font-family='Liberation Serif,DejaVu Serif,serif' fill-opacity="0.85" font-style="italic">T</text>
<text transform="translate(1062.99 2963.92) scale(1.124 1)" font-size="15.64" font-family='Liberation Serif,DejaVu Serif,serif' fill-opacity="0.85" font-style="italic">p</text>
<text transform="translate(52.9 3118.8) rotate(-90) translate(0.3 0) scale(1.016 1.07)">Tp(</text>
<text transform="translate(52.9 3118.8) rotate(-90) translate(26.05 0.25) scale(0.970 1)" font-size="17.58" font-family='Liberation Serif,DejaVu Serif,serif' fill-opacity="0.85">1</text>
<text transform="translate(52.9 3118.8) rotate(-90) translate(32.62 0.28) scale(1.255 1)" font-size="17.48" font-family='Liberation Serif,DejaVu Serif,serif' fill-opacity="0.85">0</text>
<text transform="translate(52.9 3118.8) rotate(-90) translate(42.75 -5.28) scale(1.111 1)" font-size="12.65" font-family='Liberation Serif,DejaVu Serif,serif' fill-opacity="0.85">6</text>
<text transform="translate(52.9 3118.8) rotate(-90) translate(50.31 0) scale(1.002 1.07)">K)</text>
<!-- Proton temperature -->
<g clip-path="url(#c12)">
<polyline points="117.05,3142.9 291.05,2986.6 465.05,2985.7 639.05,2999.4 813.05,2974.2 987.05,3177.9 1161.05,2984.9 1335.05,3002 1509.05,2987.9 1683.05,2986.6" fill="none" stroke="#00f" stroke-width="2.08" stroke-linejoin="round"/>
</g>
<line x1="117.5" y1="3195" x2="117.5" y2="3186.6" stroke="#000" stroke-width="1"/>
<line x1="117.5" y1="2973" x2="117.5" y2="2981.4" stroke="#000" stroke-width="1"/>
<text transform="translate(117.45 3217.7) scale(1.005 1.07)" text-anchor="middle">07/02 05:33:37</text>
<line x1="291.5" y1="3195" x2="291.5" y2="3186.6" stroke="#000" stroke-width="1"/>
<line x1="291.5" y1="2973" x2="291.5" y2="2981.4" stroke="#000" stroke-width="1"/>
<text transform="translate(291.45 3217.7) scale(1.005 1.07)" text-anchor="middle">07/02 05:33:38</text>
<line x1="465.5" y1="3195" x2="465.5" y2="3186.6" stroke="#000" stroke-width="1"/>
<line x1="465.5" y1="2973" x2="465.5" y2="2981.4" stroke="#000" stroke-width="1"/>
<text transform="translate(465.45 3217.7) scale(1.005 1.07)" text-anchor="middle">07/02 05:33:39</text>
<line x1="639.5" y1="3195" x2="639.5" y2="3186.6" stroke="#000" stroke-width="1"/>
<line x1="639.5" y1="2973" x2="639.5" y2="2981.4" stroke="#000" stroke-width="1"/>
<text transform="translate(639.45 3217.7) scale(1.005 1.07)" text-anchor="middle">07/02 05:33:40</text>
<line x1="813.5" y1="3195" x2="813.5" y2="3186.6" stroke="#000" stroke-width="1"/>
<line x1="813.5" y1="2973" x2="813.5" y2="2981.4" stroke="#000" stroke-width="1"/>
<text transform="translate(813.45 3217.7) scale(1.005 1.07)" text-anchor="middle">07/02 05:33:41</text>
<line x1="987.5" y1="3195" x2="987.5" y2="3186.6" stroke="#000" stroke-width="1"/>
<line x1="987.5" y1="2973" x2="987.5" y2="2981.4" stroke="#000" stroke-width="1"/>
<text transform="translate(987.45 3217.7) scale(1.005 1.07)" text-anchor="middle">07/02 05:33:42</text>
<line x1="1161.5" y1="3195" x2="1161.5" y2="3186.6" stroke="#000" stroke-width="1"/>
<line x1="1161.5" y1="2973" x2="1161.5" y2="2981.4" stroke="#000" stroke-width="1"/>
<text transform="translate(1161.45 3217.7) scale(1.005 1.07)" text-anchor="middle">07/02 05:33:43</text>
<line x1="1335.5" y1="3195" x2="1335.5" y2="3186.6" stroke="#000" stroke-width="1"/>
<line x1="1335.5" y1="2973" x2="1335.5" y2="2981.4" stroke="#000" stroke-width="1"/>
<text transform="translate(1335.45 3217.7) scale(1.005 1.07)" text-anchor="middle">07/02 05:33:44</text>
<line x1="1509.5" y1="3195" x2="1509.5" y2="3186.6" stroke="#000" stroke-width="1"/>
<line x1="1509.5" y1="2973" x2="1509.5" y2="2981.4" stroke="#000" stroke-width="1"/>
<text transform="translate(1509.45 3217.7) scale(1.005 1.07)" text-anchor="middle">07/02 05:33:45</text>
<line x1="1683.5" y1="3195" x2="1683.5" y2="3186.6" stroke="#000" stroke-width="1"/>
<line x1="1683.5" y1="2973" x2="1683.5" y2="2981.4" stroke="#000" stroke-width="1"/>
<text transform="translate(1683.45 3217.7) scale(1.005 1.07)" text-anchor="middle">07/02 05:33:46</text>
<line x1="117" y1="3195.5" x2="125.4" y2="3195.5" stroke="#000" stroke-width="1"/>
<line x1="1683" y1="3195.5" x2="1674.6" y2="3195.5" stroke="#000" stroke-width="1"/>
<text transform="translate(108.2 3199.7) scale(0.985 1.07)" text-anchor="end">0.00</text>
<line x1="117" y1="3158.5" x2="125.4" y2="3158.5" stroke="#000" stroke-width="1"/>
<line x1="1683" y1="3158.5" x2="1674.6" y2="3158.5" stroke="#000" stroke-width="1"/>
<text transform="translate(108.2 3162.7) scale(0.985 1.07)" text-anchor="end">0.02</text>
<line x1="117" y1="3121.5" x2="125.4" y2="3121.5" stroke="#000" stroke-width="1"/>
<line x1="1683" y1="3121.5" x2="1674.6" y2="3121.5" stroke="#000" stroke-width="1"/>
<text transform="translate(108.2 3125.7) scale(0.985 1.07)" text-anchor="end">0.04</text>
<line x1="117" y1="3084.5" x2="125.4" y2="3084.5" stroke="#000" stroke-width="1"/>
<line x1="1683" y1="3084.5" x2="1674.6" y2="3084.5" stroke="#000" stroke-width="1"/>
<text transform="translate(108.2 3088.7) scale(0.985 1.07)" text-anchor="end">0.06</text>
<line x1="117" y1="3047.5" x2="125.4" y2="3047.5" stroke="#000" stroke-width="1"/>
<line x1="1683" y1="3047.5" x2="1674.6" y2="3047.5" stroke="#000" stroke-width="1"/>
<text transform="translate(108.2 3051.7) scale(0.985 1.07)" text-anchor="end">0.08</text>
<line x1="117" y1="3010.5" x2="125.4" y2="3010.5" stroke="#000" stroke-width="1"/>
<line x1="1683" y1="3010.5" x2="1674.6" y2="3010.5" stroke="#000" stroke-width="1"/>
<text transform="translate(108.2 3014.7) scale(0.985 1.07)" text-anchor="end">0.10</text>
<line x1="117" y1="2973.5" x2="125.4" y2="2973.5" stroke="#000" stroke-width="1"/>
<line x1="1683" y1="2973.5" x2="1674.6" y2="2973.5" stroke="#000" stroke-width="1"/>
<text transform="translate(108.2 2977.7) scale(0.985 1.07)" text-anchor="end">0.12</text>
<rect x="117" y="2973" width="1566" height="222" fill="none" stroke="#000" stroke-width="2"/>
<rect x="124" y="2980" width="71" height="27" fill="#fff" stroke="#000" stroke-width="2"/>
<line x1="134" y1="2993" x2="156.5" y2="2993" stroke="#00f" stroke-width="2"/>
<text transform="translate(170.6 2997.9) scale(0.970 1.03)" font-size="15">Tp</text>
</svg>
</body></html>
